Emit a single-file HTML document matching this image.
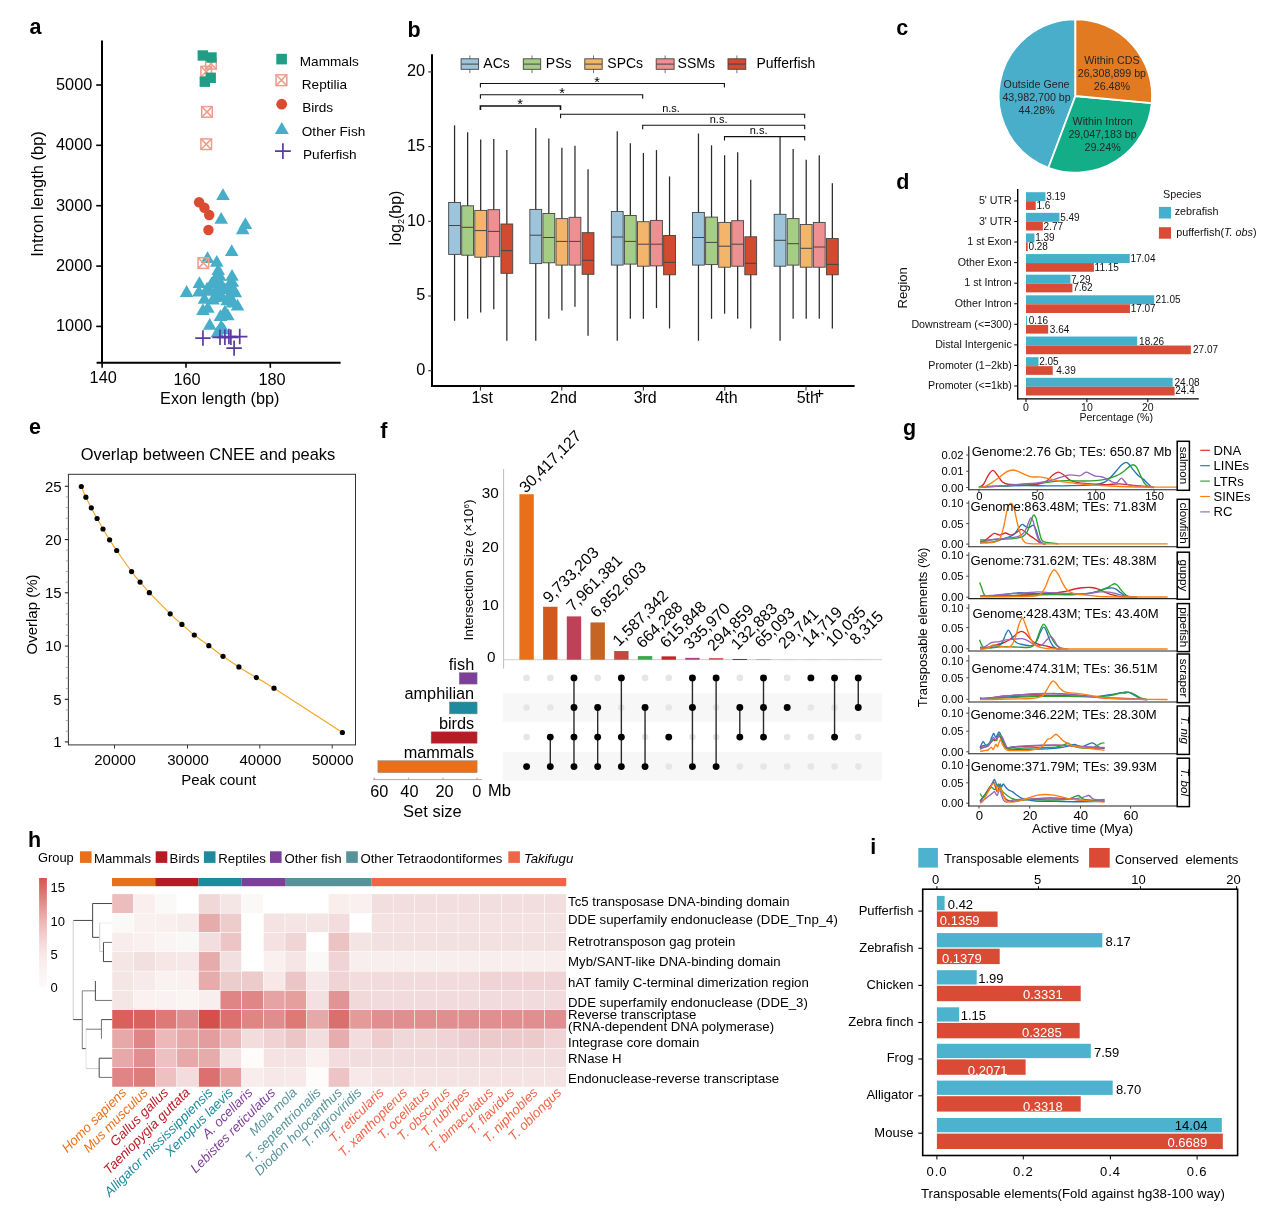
<!DOCTYPE html>
<html lang="en">
<head>
<meta charset="utf-8">
<title>Figure</title>
<style>
html,body{margin:0;padding:0;background:#fff;}
body{width:1268px;height:1213px;overflow:hidden;}
svg{display:block;font-family:"Liberation Sans",sans-serif;}
</style>
</head>
<body>
<svg width="1268" height="1213" viewBox="0 0 1268 1213">
<rect x="0" y="0" width="1268" height="1213" fill="#ffffff"/>
<g>
<text x="29.5" y="34.3" font-size="21.5" font-weight="bold">a</text>
<line x1="102" y1="40.4" x2="102" y2="363.6" stroke="#000" stroke-width="2" />
<line x1="96.6" y1="362.7" x2="340.6" y2="362.7" stroke="#000" stroke-width="2" />
<line x1="96.2" y1="85" x2="102" y2="85" stroke="#000" stroke-width="1.6" />
<text x="92.3" y="89.95" font-size="16.3" text-anchor="end">5000</text>
<line x1="96.2" y1="145.3" x2="102" y2="145.3" stroke="#000" stroke-width="1.6" />
<text x="92.3" y="150.25" font-size="16.3" text-anchor="end">4000</text>
<line x1="96.2" y1="205.7" x2="102" y2="205.7" stroke="#000" stroke-width="1.6" />
<text x="92.3" y="210.65" font-size="16.3" text-anchor="end">3000</text>
<line x1="96.2" y1="266.1" x2="102" y2="266.1" stroke="#000" stroke-width="1.6" />
<text x="92.3" y="271.05" font-size="16.3" text-anchor="end">2000</text>
<line x1="96.2" y1="326.4" x2="102" y2="326.4" stroke="#000" stroke-width="1.6" />
<text x="92.3" y="331.35" font-size="16.3" text-anchor="end">1000</text>
<line x1="102.1" y1="362.7" x2="102.1" y2="367.8" stroke="#000" stroke-width="1.6" />
<line x1="186" y1="362.7" x2="186" y2="367.8" stroke="#000" stroke-width="1.6" />
<line x1="270.3" y1="362.7" x2="270.3" y2="367.8" stroke="#000" stroke-width="1.6" />
<text x="103.2" y="382.6" font-size="16.3" text-anchor="middle">140</text>
<text x="187" y="385" font-size="16.3" text-anchor="middle">160</text>
<text x="272" y="385" font-size="16.3" text-anchor="middle">180</text>
<text x="219.8" y="403.6" font-size="16.3" text-anchor="middle">Exon length (bp)</text>
<text x="43" y="194" font-size="16.5" text-anchor="middle" transform="rotate(-90 43 194)">Intron length (bp)</text>
<path d="M222.98,188.2L229.78,200L216.18,200Z" fill="#46aec9"/>
<path d="M221.19,211.94L227.99,223.74L214.39,223.74Z" fill="#46aec9"/>
<path d="M245.38,217.13L252.18,228.93L238.58,228.93Z" fill="#46aec9"/>
<path d="M242.71,222.33L249.51,234.13L235.91,234.13Z" fill="#46aec9"/>
<path d="M231.73,244.14L238.53,255.94L224.93,255.94Z" fill="#46aec9"/>
<path d="M207.54,251.26L214.34,263.06L200.74,263.06Z" fill="#46aec9"/>
<path d="M216.74,254.97L223.54,266.77L209.94,266.77Z" fill="#46aec9"/>
<path d="M218.23,263.13L225.03,274.93L211.43,274.93Z" fill="#46aec9"/>
<path d="M219.71,269.07L226.51,280.87L212.91,280.87Z" fill="#46aec9"/>
<path d="M232.03,269.07L238.83,280.87L225.23,280.87Z" fill="#46aec9"/>
<path d="M199.38,276.19L206.18,287.99L192.58,287.99Z" fill="#46aec9"/>
<path d="M186.62,285.1L193.42,296.9L179.82,296.9Z" fill="#46aec9"/>
<path d="M211.55,276.49L218.35,288.29L204.75,288.29Z" fill="#46aec9"/>
<path d="M232.32,275.01L239.12,286.81L225.52,286.81Z" fill="#46aec9"/>
<path d="M198.94,284.65L205.74,296.45L192.14,296.45Z" fill="#46aec9"/>
<path d="M210.07,283.91L216.87,295.71L203.27,295.71Z" fill="#46aec9"/>
<path d="M217.48,280.94L224.28,292.74L210.68,292.74Z" fill="#46aec9"/>
<path d="M224.9,282.42L231.7,294.22L218.1,294.22Z" fill="#46aec9"/>
<path d="M235.29,285.39L242.09,297.19L228.49,297.19Z" fill="#46aec9"/>
<path d="M214.52,289.84L221.32,301.64L207.72,301.64Z" fill="#46aec9"/>
<path d="M221.94,289.84L228.74,301.64L215.14,301.64Z" fill="#46aec9"/>
<path d="M229.36,288.36L236.16,300.16L222.56,300.16Z" fill="#46aec9"/>
<path d="M204.43,292.07L211.23,303.87L197.63,303.87Z" fill="#46aec9"/>
<path d="M237.52,298.75L244.32,310.55L230.72,310.55Z" fill="#46aec9"/>
<path d="M232.32,295.78L239.12,307.58L225.52,307.58Z" fill="#46aec9"/>
<path d="M202.94,303.2L209.74,315L196.14,315Z" fill="#46aec9"/>
<path d="M207.84,300.97L214.64,312.77L201.04,312.77Z" fill="#46aec9"/>
<path d="M224.9,304.68L231.7,316.48L218.1,316.48Z" fill="#46aec9"/>
<path d="M220.45,309.13L227.25,320.93L213.65,320.93Z" fill="#46aec9"/>
<path d="M227.87,308.39L234.67,320.19L221.07,320.19Z" fill="#46aec9"/>
<path d="M209.77,318.04L216.57,329.84L202.97,329.84Z" fill="#46aec9"/>
<path d="M221.19,319.52L227.99,331.32L214.39,331.32Z" fill="#46aec9"/>
<path d="M217.48,325.46L224.28,337.26L210.68,337.26Z" fill="#46aec9"/>
<path d="M223.42,322.49L230.22,334.29L216.62,334.29Z" fill="#46aec9"/>
<path d="M214.52,272.78L221.32,284.58L207.72,284.58Z" fill="#46aec9"/>
<path d="M221.19,277.23L227.99,289.03L214.39,289.03Z" fill="#46aec9"/>
<path d="M207.1,281.68L213.9,293.48L200.3,293.48Z" fill="#46aec9"/>
<path d="M228.61,278.71L235.41,290.51L221.81,290.51Z" fill="#46aec9"/>
<path d="M218.97,286.13L225.77,297.93L212.17,297.93Z" fill="#46aec9"/>
<path d="M213.03,292.81L219.83,304.61L206.23,304.61Z" fill="#46aec9"/>
<path d="M227.13,293.55L233.93,305.35L220.33,305.35Z" fill="#46aec9"/>
<path d="M233.07,281.68L239.87,293.48L226.27,293.48Z" fill="#46aec9"/>
<path d="M230.84,291.33L237.64,303.13L224.04,303.13Z" fill="#46aec9"/>
<g stroke="#ee9d8a" stroke-width="1.5" fill="none"><rect x="205.7" y="58.5" width="10.6" height="10.6"/><path d="M205.7,58.5L216.3,69.1M205.7,69.1L216.3,58.5"/></g>
<g stroke="#ee9d8a" stroke-width="1.5" fill="none"><rect x="200.9" y="66.4" width="10.6" height="10.6"/><path d="M200.9,66.4L211.5,77M200.9,77L211.5,66.4"/></g>
<g stroke="#ee9d8a" stroke-width="1.5" fill="none"><rect x="201.7" y="106.6" width="10.6" height="10.6"/><path d="M201.7,106.6L212.3,117.2M201.7,117.2L212.3,106.6"/></g>
<g stroke="#ee9d8a" stroke-width="1.5" fill="none"><rect x="200.9" y="138.9" width="10.6" height="10.6"/><path d="M200.9,138.9L211.5,149.5M200.9,149.5L211.5,138.9"/></g>
<g stroke="#ee9d8a" stroke-width="1.5" fill="none"><rect x="198.09" y="257.8" width="10.6" height="10.6"/><path d="M198.09,257.8L208.69,268.4M198.09,268.4L208.69,257.8"/></g>
<rect x="197.6" y="50.3" width="10.4" height="10.4" fill="#1f9e85"/>
<rect x="206.3" y="52.3" width="10.4" height="10.4" fill="#1f9e85"/>
<rect x="199.6" y="76.5" width="10.4" height="10.4" fill="#1f9e85"/>
<rect x="205.5" y="72.6" width="10.4" height="10.4" fill="#1f9e85"/>
<circle cx="199.08" cy="202.26" r="5.2" fill="#dc4b31" />
<circle cx="204.43" cy="207.75" r="5.2" fill="#dc4b31" />
<circle cx="209.17" cy="215.02" r="5.2" fill="#dc4b31" />
<circle cx="208.43" cy="230.01" r="5.2" fill="#dc4b31" />
<path d="M195.24,338.04L210.64,338.04M202.94,330.34L202.94,345.74" stroke="#5a3a9e" stroke-width="1.7" fill="none"/>
<path d="M212.31,337.29L227.71,337.29M220.01,329.59L220.01,344.99" stroke="#5a3a9e" stroke-width="1.7" fill="none"/>
<path d="M217.2,337.29L232.6,337.29M224.9,329.59L224.9,344.99" stroke="#5a3a9e" stroke-width="1.7" fill="none"/>
<path d="M221.21,336.55L236.61,336.55M228.91,328.85L228.91,344.25" stroke="#5a3a9e" stroke-width="1.7" fill="none"/>
<path d="M223.14,337.29L238.54,337.29M230.84,329.59L230.84,344.99" stroke="#5a3a9e" stroke-width="1.7" fill="none"/>
<path d="M232.04,336.55L247.44,336.55M239.74,328.85L239.74,344.25" stroke="#5a3a9e" stroke-width="1.7" fill="none"/>
<path d="M226.4,348.13L241.8,348.13M234.1,340.43L234.1,355.83" stroke="#5a3a9e" stroke-width="1.7" fill="none"/>
<rect x="276.3" y="53.8" width="10.6" height="10.6" fill="#1f9e85"/>
<text x="299.8" y="65.7" font-size="13.6">Mammals</text>
<g stroke="#ee9d8a" stroke-width="1.5" fill="none"><rect x="276" y="74.8" width="10.8" height="10.8"/><path d="M276,74.8L286.8,85.6M276,85.6L286.8,74.8"/></g>
<text x="301.8" y="89" font-size="13.6">Reptilia</text>
<circle cx="281.7" cy="104.2" r="5.4" fill="#dc4b31" />
<text x="302.2" y="112.3" font-size="13.6">Birds</text>
<path d="M281.8,122.1L288.8,134.1L274.8,134.1Z" fill="#46aec9"/>
<text x="301.8" y="135.5" font-size="13.6">Other Fish</text>
<path d="M275,151.1L290.8,151.1M282.9,143.2L282.9,159" stroke="#5a3a9e" stroke-width="1.7" fill="none"/>
<text x="303" y="158.8" font-size="13.6">Puferfish</text>
</g>
<g>
<text x="407.5" y="37.3" font-size="21.5" font-weight="bold">b</text>
<line x1="432" y1="54.3" x2="432" y2="387" stroke="#000" stroke-width="2" />
<line x1="431.3" y1="386" x2="854.6" y2="386" stroke="#000" stroke-width="2" />
<line x1="428.2" y1="370.7" x2="432" y2="370.7" stroke="#333" stroke-width="1.1" />
<text x="425.2" y="375" font-size="16.3" text-anchor="end">0</text>
<line x1="428.2" y1="296" x2="432" y2="296" stroke="#333" stroke-width="1.1" />
<text x="425.2" y="300.3" font-size="16.3" text-anchor="end">5</text>
<line x1="428.2" y1="221.3" x2="432" y2="221.3" stroke="#333" stroke-width="1.1" />
<text x="425.2" y="225.6" font-size="16.3" text-anchor="end">10</text>
<line x1="428.2" y1="146.6" x2="432" y2="146.6" stroke="#333" stroke-width="1.1" />
<text x="425.2" y="150.9" font-size="16.3" text-anchor="end">15</text>
<line x1="428.2" y1="71.9" x2="432" y2="71.9" stroke="#333" stroke-width="1.1" />
<text x="425.2" y="76.2" font-size="16.3" text-anchor="end">20</text>
<line x1="480.4" y1="386" x2="480.4" y2="390.6" stroke="#222" stroke-width="1" />
<text x="482.2" y="402.6" font-size="16" text-anchor="middle">1st</text>
<line x1="561.8" y1="386" x2="561.8" y2="390.6" stroke="#222" stroke-width="1" />
<text x="563.6" y="402.6" font-size="16" text-anchor="middle">2nd</text>
<line x1="643.4" y1="386" x2="643.4" y2="390.6" stroke="#222" stroke-width="1" />
<text x="645.2" y="402.6" font-size="16" text-anchor="middle">3rd</text>
<line x1="724.8" y1="386" x2="724.8" y2="390.6" stroke="#222" stroke-width="1" />
<text x="726.6" y="402.6" font-size="16" text-anchor="middle">4th</text>
<line x1="806" y1="386" x2="806" y2="390.6" stroke="#222" stroke-width="1" />
<text x="807.8" y="402.6" font-size="16" text-anchor="middle">5th</text>
<text x="815.1" y="397.7" font-size="15.5">+</text>
<text x="400.9" y="218" font-size="16" text-anchor="middle" transform="rotate(-90 400.9 218)">log<tspan font-size="9" dy="3.5">2</tspan><tspan dy="-3.5">(bp)</tspan></text>
<line x1="454.56" y1="125.3" x2="454.56" y2="320.8" stroke="#2a2a2a" stroke-width="1.25" />
<rect x="448.66" y="202.5" width="11.8" height="51.9" fill="#9dc4da" stroke="#444" stroke-width="0.9"/>
<line x1="448.66" y1="225.5" x2="460.46" y2="225.5" stroke="#444" stroke-width="1" />
<line x1="467.63" y1="132.2" x2="467.63" y2="318.8" stroke="#2a2a2a" stroke-width="1.25" />
<rect x="461.73" y="205.8" width="11.8" height="49.4" fill="#a6cd85" stroke="#444" stroke-width="0.9"/>
<line x1="461.73" y1="227.3" x2="473.53" y2="227.3" stroke="#444" stroke-width="1" />
<line x1="480.7" y1="139.6" x2="480.7" y2="312.4" stroke="#2a2a2a" stroke-width="1.25" />
<rect x="474.8" y="210.4" width="11.8" height="46.8" fill="#f2b56b" stroke="#444" stroke-width="0.9"/>
<line x1="474.8" y1="230.6" x2="486.6" y2="230.6" stroke="#444" stroke-width="1" />
<line x1="493.77" y1="139.1" x2="493.77" y2="309.3" stroke="#2a2a2a" stroke-width="1.25" />
<rect x="487.87" y="209.7" width="11.8" height="47" fill="#ee9092" stroke="#444" stroke-width="0.9"/>
<line x1="487.87" y1="231.4" x2="499.67" y2="231.4" stroke="#444" stroke-width="1" />
<line x1="506.84" y1="150.1" x2="506.84" y2="340.8" stroke="#2a2a2a" stroke-width="1.25" />
<rect x="500.94" y="224" width="11.8" height="49.3" fill="#d24a30" stroke="#444" stroke-width="0.9"/>
<line x1="500.94" y1="250.6" x2="512.74" y2="250.6" stroke="#444" stroke-width="1" />
<line x1="535.76" y1="127.9" x2="535.76" y2="340.8" stroke="#2a2a2a" stroke-width="1.25" />
<rect x="529.86" y="209.4" width="11.8" height="54.2" fill="#9dc4da" stroke="#444" stroke-width="0.9"/>
<line x1="529.86" y1="235.2" x2="541.66" y2="235.2" stroke="#444" stroke-width="1" />
<line x1="548.83" y1="138.6" x2="548.83" y2="318.8" stroke="#2a2a2a" stroke-width="1.25" />
<rect x="542.93" y="213.5" width="11.8" height="49.3" fill="#a6cd85" stroke="#444" stroke-width="0.9"/>
<line x1="542.93" y1="237.5" x2="554.73" y2="237.5" stroke="#444" stroke-width="1" />
<line x1="561.9" y1="147.8" x2="561.9" y2="310.6" stroke="#2a2a2a" stroke-width="1.25" />
<rect x="556" y="218.6" width="11.8" height="46.5" fill="#f2b56b" stroke="#444" stroke-width="0.9"/>
<line x1="556" y1="241.4" x2="567.8" y2="241.4" stroke="#444" stroke-width="1" />
<line x1="574.97" y1="145.8" x2="574.97" y2="306.8" stroke="#2a2a2a" stroke-width="1.25" />
<rect x="569.07" y="217.3" width="11.8" height="47.8" fill="#ee9092" stroke="#444" stroke-width="0.9"/>
<line x1="569.07" y1="241.4" x2="580.87" y2="241.4" stroke="#444" stroke-width="1" />
<line x1="588.04" y1="169.3" x2="588.04" y2="335.7" stroke="#2a2a2a" stroke-width="1.25" />
<rect x="582.14" y="232.7" width="11.8" height="41.6" fill="#d24a30" stroke="#444" stroke-width="0.9"/>
<line x1="582.14" y1="260.3" x2="593.94" y2="260.3" stroke="#444" stroke-width="1" />
<line x1="617.26" y1="131.2" x2="617.26" y2="340.8" stroke="#2a2a2a" stroke-width="1.25" />
<rect x="611.36" y="211.5" width="11.8" height="53.6" fill="#9dc4da" stroke="#444" stroke-width="0.9"/>
<line x1="611.36" y1="237" x2="623.16" y2="237" stroke="#444" stroke-width="1" />
<line x1="630.33" y1="143.2" x2="630.33" y2="318.8" stroke="#2a2a2a" stroke-width="1.25" />
<rect x="624.43" y="215.5" width="11.8" height="48.6" fill="#a6cd85" stroke="#444" stroke-width="0.9"/>
<line x1="624.43" y1="241.4" x2="636.23" y2="241.4" stroke="#444" stroke-width="1" />
<line x1="643.4" y1="152.9" x2="643.4" y2="318.8" stroke="#2a2a2a" stroke-width="1.25" />
<rect x="637.5" y="221.7" width="11.8" height="44.5" fill="#f2b56b" stroke="#444" stroke-width="0.9"/>
<line x1="637.5" y1="244.2" x2="649.3" y2="244.2" stroke="#444" stroke-width="1" />
<line x1="656.47" y1="150.1" x2="656.47" y2="308.1" stroke="#2a2a2a" stroke-width="1.25" />
<rect x="650.57" y="220.4" width="11.8" height="45.5" fill="#ee9092" stroke="#444" stroke-width="0.9"/>
<line x1="650.57" y1="244.2" x2="662.37" y2="244.2" stroke="#444" stroke-width="1" />
<line x1="669.54" y1="176.4" x2="669.54" y2="328.5" stroke="#2a2a2a" stroke-width="1.25" />
<rect x="663.64" y="235.5" width="11.8" height="39.3" fill="#d24a30" stroke="#444" stroke-width="0.9"/>
<line x1="663.64" y1="262.3" x2="675.44" y2="262.3" stroke="#444" stroke-width="1" />
<line x1="698.46" y1="133.5" x2="698.46" y2="340.8" stroke="#2a2a2a" stroke-width="1.25" />
<rect x="692.56" y="212.5" width="11.8" height="52.6" fill="#9dc4da" stroke="#444" stroke-width="0.9"/>
<line x1="692.56" y1="237.5" x2="704.36" y2="237.5" stroke="#444" stroke-width="1" />
<line x1="711.53" y1="145.3" x2="711.53" y2="318.8" stroke="#2a2a2a" stroke-width="1.25" />
<rect x="705.63" y="217.1" width="11.8" height="47.5" fill="#a6cd85" stroke="#444" stroke-width="0.9"/>
<line x1="705.63" y1="242.4" x2="717.43" y2="242.4" stroke="#444" stroke-width="1" />
<line x1="724.6" y1="155.2" x2="724.6" y2="313.7" stroke="#2a2a2a" stroke-width="1.25" />
<rect x="718.7" y="222.4" width="11.8" height="44.8" fill="#f2b56b" stroke="#444" stroke-width="0.9"/>
<line x1="718.7" y1="246.2" x2="730.5" y2="246.2" stroke="#444" stroke-width="1" />
<line x1="737.67" y1="152.2" x2="737.67" y2="318.8" stroke="#2a2a2a" stroke-width="1.25" />
<rect x="731.77" y="220.7" width="11.8" height="45.5" fill="#ee9092" stroke="#444" stroke-width="0.9"/>
<line x1="731.77" y1="244.2" x2="743.57" y2="244.2" stroke="#444" stroke-width="1" />
<line x1="750.74" y1="179.8" x2="750.74" y2="328.5" stroke="#2a2a2a" stroke-width="1.25" />
<rect x="744.84" y="236.8" width="11.8" height="38" fill="#d24a30" stroke="#444" stroke-width="0.9"/>
<line x1="744.84" y1="263.3" x2="756.64" y2="263.3" stroke="#444" stroke-width="1" />
<line x1="780.06" y1="136.8" x2="780.06" y2="340.8" stroke="#2a2a2a" stroke-width="1.25" />
<rect x="774.16" y="214.3" width="11.8" height="51.9" fill="#9dc4da" stroke="#444" stroke-width="0.9"/>
<line x1="774.16" y1="240.3" x2="785.96" y2="240.3" stroke="#444" stroke-width="1" />
<line x1="793.13" y1="149.1" x2="793.13" y2="318.8" stroke="#2a2a2a" stroke-width="1.25" />
<rect x="787.23" y="218.6" width="11.8" height="46.5" fill="#a6cd85" stroke="#444" stroke-width="0.9"/>
<line x1="787.23" y1="243.7" x2="799.03" y2="243.7" stroke="#444" stroke-width="1" />
<line x1="806.2" y1="159.8" x2="806.2" y2="318.8" stroke="#2a2a2a" stroke-width="1.25" />
<rect x="800.3" y="224.5" width="11.8" height="42.7" fill="#f2b56b" stroke="#444" stroke-width="0.9"/>
<line x1="800.3" y1="248.3" x2="812.1" y2="248.3" stroke="#444" stroke-width="1" />
<line x1="819.27" y1="155.2" x2="819.27" y2="318.8" stroke="#2a2a2a" stroke-width="1.25" />
<rect x="813.37" y="222.4" width="11.8" height="44.8" fill="#ee9092" stroke="#444" stroke-width="0.9"/>
<line x1="813.37" y1="247" x2="825.17" y2="247" stroke="#444" stroke-width="1" />
<line x1="832.34" y1="183.3" x2="832.34" y2="328.5" stroke="#2a2a2a" stroke-width="1.25" />
<rect x="826.44" y="238.5" width="11.8" height="36.3" fill="#d24a30" stroke="#444" stroke-width="0.9"/>
<line x1="826.44" y1="264.4" x2="838.24" y2="264.4" stroke="#444" stroke-width="1" />
<line x1="469.85" y1="55.4" x2="469.85" y2="73.2" stroke="#777" stroke-width="1" />
<rect x="461.1" y="58.8" width="17.5" height="10.5" fill="#9dc4da" stroke="#444" stroke-width="0.9"/>
<line x1="461.1" y1="64.1" x2="478.6" y2="64.1" stroke="#444" stroke-width="1" />
<text x="483.3" y="68" font-size="14">ACs</text>
<line x1="532" y1="55.4" x2="532" y2="73.2" stroke="#777" stroke-width="1" />
<rect x="523.3" y="58.8" width="17.4" height="10.5" fill="#a6cd85" stroke="#444" stroke-width="0.9"/>
<line x1="523.3" y1="64.1" x2="540.7" y2="64.1" stroke="#444" stroke-width="1" />
<text x="545.8" y="68" font-size="14">PSs</text>
<line x1="593.5" y1="55.4" x2="593.5" y2="73.2" stroke="#777" stroke-width="1" />
<rect x="584.8" y="58.8" width="17.4" height="10.5" fill="#f2b56b" stroke="#444" stroke-width="0.9"/>
<line x1="584.8" y1="64.1" x2="602.2" y2="64.1" stroke="#444" stroke-width="1" />
<text x="607.3" y="68" font-size="14">SPCs</text>
<line x1="665.15" y1="55.4" x2="665.15" y2="73.2" stroke="#777" stroke-width="1" />
<rect x="656.2" y="58.8" width="17.9" height="10.5" fill="#ee9092" stroke="#444" stroke-width="0.9"/>
<line x1="656.2" y1="64.1" x2="674.1" y2="64.1" stroke="#444" stroke-width="1" />
<text x="677.6" y="68" font-size="14">SSMs</text>
<line x1="736.9" y1="55.4" x2="736.9" y2="73.2" stroke="#777" stroke-width="1" />
<rect x="728" y="58.8" width="17.8" height="10.5" fill="#d24a30" stroke="#444" stroke-width="0.9"/>
<line x1="728" y1="64.1" x2="745.8" y2="64.1" stroke="#444" stroke-width="1" />
<text x="756.5" y="68" font-size="14">Pufferfish</text>
<path d="M480.4,87.5L480.4,83.5L724.4,83.5L724.4,87.5" fill="none" stroke="#111" stroke-width="1.1" /><text x="597.1" y="86.9" font-size="14.5" text-anchor="middle">*</text>
<path d="M480.4,98.7L480.4,94.7L642.7,94.7L642.7,98.7" fill="none" stroke="#111" stroke-width="1.1" /><text x="562.2" y="98.1" font-size="14.5" text-anchor="middle">*</text>
<path d="M480.4,110L480.4,106L560.5,106L560.5,110" fill="none" stroke="#111" stroke-width="1.6" /><text x="520.2" y="109.4" font-size="14.5" text-anchor="middle">*</text>
<path d="M560.6,118.2L560.6,114.2L804.7,114.2L804.7,118.2" fill="none" stroke="#111" stroke-width="1.1" /><text x="671" y="112" font-size="11" text-anchor="middle">n.s.</text>
<path d="M642.7,129.3L642.7,125.3L804.7,125.3L804.7,129.3" fill="none" stroke="#111" stroke-width="1.1" /><text x="718.6" y="123.1" font-size="11" text-anchor="middle">n.s.</text>
<path d="M724.5,140.6L724.5,136.6L804.7,136.6L804.7,140.6" fill="none" stroke="#111" stroke-width="1.1" /><text x="758.6" y="134.4" font-size="11" text-anchor="middle">n.s.</text>
</g>
<g>
<text x="896.3" y="35" font-size="21.5" font-weight="bold">c</text>
<path d="M1075.4,96L1048.41,167.8A76.7,76.7 0 0 1 1075.4,19.3Z" fill="#48aeca" stroke="#fff" stroke-width="1.8" stroke-linejoin="round"/>
<path d="M1075.4,96L1151.77,103.08A76.7,76.7 0 0 1 1048.41,167.8Z" fill="#13ad88" stroke="#fff" stroke-width="1.8" stroke-linejoin="round"/>
<path d="M1075.4,96L1075.4,19.3A76.7,76.7 0 0 1 1151.77,103.08Z" fill="#e27a22" stroke="#fff" stroke-width="1.8" stroke-linejoin="round"/>
<text x="1111.9" y="63.9" font-size="10.7" text-anchor="middle" fill="#262626">Within CDS</text>
<text x="1111.9" y="76.9" font-size="10.7" text-anchor="middle" fill="#262626">26,308,899 bp</text>
<text x="1111.9" y="89.9" font-size="10.7" text-anchor="middle" fill="#262626">26.48%</text>
<text x="1036.6" y="87.5" font-size="10.7" text-anchor="middle" fill="#262626">Outside Gene</text>
<text x="1036.6" y="100.5" font-size="10.7" text-anchor="middle" fill="#262626">43,982,700 bp</text>
<text x="1036.6" y="113.5" font-size="10.7" text-anchor="middle" fill="#262626">44.28%</text>
<text x="1102.6" y="124.7" font-size="10.7" text-anchor="middle" fill="#262626">Within Intron</text>
<text x="1102.6" y="137.7" font-size="10.7" text-anchor="middle" fill="#262626">29,047,183 bp</text>
<text x="1102.6" y="150.7" font-size="10.7" text-anchor="middle" fill="#262626">29.24%</text>
</g>
<g>
<text x="896.3" y="189.3" font-size="21.5" font-weight="bold">d</text>
<rect x="1026" y="192.2" width="19.43" height="9" fill="#45b0cb"/>
<rect x="1026" y="201.2" width="9.74" height="8.7" fill="#d94b35"/>
<line x1="1014.2" y1="200.9" x2="1017.7" y2="200.9" stroke="#000" stroke-width="1" />
<text x="1011.8" y="204.1" font-size="10.7" text-anchor="end" fill="#111">5' UTR</text>
<text x="1046.13" y="200.2" font-size="10" fill="#111">3.19</text>
<text x="1036.44" y="208.9" font-size="10" fill="#111">1.6</text>
<rect x="1026" y="212.82" width="33.43" height="9" fill="#45b0cb"/>
<rect x="1026" y="221.82" width="16.87" height="8.7" fill="#d94b35"/>
<line x1="1014.2" y1="221.47" x2="1017.7" y2="221.47" stroke="#000" stroke-width="1" />
<text x="1011.8" y="224.67" font-size="10.7" text-anchor="end" fill="#111">3' UTR</text>
<text x="1060.13" y="220.82" font-size="10" fill="#111">5.49</text>
<text x="1043.57" y="229.52" font-size="10" fill="#111">2.77</text>
<rect x="1026" y="233.44" width="8.47" height="9" fill="#45b0cb"/>
<rect x="1026" y="242.44" width="1.71" height="8.7" fill="#d94b35"/>
<line x1="1014.2" y1="242.04" x2="1017.7" y2="242.04" stroke="#000" stroke-width="1" />
<text x="1011.8" y="245.24" font-size="10.7" text-anchor="end" fill="#111">1 st Exon</text>
<text x="1035.17" y="241.44" font-size="10" fill="#111">1.39</text>
<text x="1028.41" y="250.14" font-size="10" fill="#111">0.28</text>
<rect x="1026" y="254.06" width="103.77" height="9" fill="#45b0cb"/>
<rect x="1026" y="263.06" width="67.9" height="8.7" fill="#d94b35"/>
<line x1="1014.2" y1="262.61" x2="1017.7" y2="262.61" stroke="#000" stroke-width="1" />
<text x="1011.8" y="265.81" font-size="10.7" text-anchor="end" fill="#111">Other Exon</text>
<text x="1130.47" y="262.06" font-size="10" fill="#111">17.04</text>
<text x="1094.6" y="270.76" font-size="10" fill="#111">11.15</text>
<rect x="1026" y="274.68" width="44.4" height="9" fill="#45b0cb"/>
<rect x="1026" y="283.68" width="46.41" height="8.7" fill="#d94b35"/>
<line x1="1014.2" y1="283.18" x2="1017.7" y2="283.18" stroke="#000" stroke-width="1" />
<text x="1011.8" y="286.38" font-size="10.7" text-anchor="end" fill="#111">1 st Intron</text>
<text x="1071.1" y="282.68" font-size="10" fill="#111">7.29</text>
<text x="1073.11" y="291.38" font-size="10" fill="#111">7.62</text>
<rect x="1026" y="295.3" width="128.19" height="9" fill="#45b0cb"/>
<rect x="1026" y="304.3" width="103.96" height="8.7" fill="#d94b35"/>
<line x1="1014.2" y1="303.75" x2="1017.7" y2="303.75" stroke="#000" stroke-width="1" />
<text x="1011.8" y="306.95" font-size="10.7" text-anchor="end" fill="#111">Other Intron</text>
<text x="1155.49" y="303.3" font-size="10" fill="#111">21.05</text>
<text x="1130.66" y="312" font-size="10" fill="#111">17.07</text>
<rect x="1026" y="315.92" width="0.97" height="9" fill="#45b0cb"/>
<rect x="1026" y="324.92" width="22.17" height="8.7" fill="#d94b35"/>
<line x1="1014.2" y1="324.32" x2="1017.7" y2="324.32" stroke="#000" stroke-width="1" />
<text x="1011.8" y="327.52" font-size="10.7" text-anchor="end" fill="#111">Downstream (&lt;=300)</text>
<text x="1028.67" y="323.92" font-size="10" fill="#111">0.16</text>
<text x="1049.87" y="332.62" font-size="10" fill="#111">3.64</text>
<rect x="1026" y="336.54" width="111.2" height="9" fill="#45b0cb"/>
<rect x="1026" y="345.54" width="164.86" height="8.7" fill="#d94b35"/>
<line x1="1014.2" y1="344.89" x2="1017.7" y2="344.89" stroke="#000" stroke-width="1" />
<text x="1011.8" y="348.09" font-size="10.7" text-anchor="end" fill="#111">Distal Intergenic</text>
<text x="1139.1" y="344.54" font-size="10" fill="#111">18.26</text>
<text x="1193.06" y="353.24" font-size="10" fill="#111">27.07</text>
<rect x="1026" y="357.16" width="12.48" height="9" fill="#45b0cb"/>
<rect x="1026" y="366.16" width="26.74" height="8.7" fill="#d94b35"/>
<line x1="1014.2" y1="365.46" x2="1017.7" y2="365.46" stroke="#000" stroke-width="1" />
<text x="1011.8" y="368.66" font-size="10.7" text-anchor="end" fill="#111">Promoter (1−2kb)</text>
<text x="1039.18" y="365.16" font-size="10" fill="#111">2.05</text>
<text x="1056.24" y="373.86" font-size="10" fill="#111">4.39</text>
<rect x="1026" y="377.78" width="146.65" height="9" fill="#45b0cb"/>
<rect x="1026" y="386.78" width="148.6" height="8.7" fill="#d94b35"/>
<line x1="1014.2" y1="386.03" x2="1017.7" y2="386.03" stroke="#000" stroke-width="1" />
<text x="1011.8" y="389.23" font-size="10.7" text-anchor="end" fill="#111">Promoter (&lt;=1kb)</text>
<text x="1174.55" y="385.78" font-size="10" fill="#111">24.08</text>
<text x="1175.3" y="394.48" font-size="10" fill="#111">24.4</text>
<line x1="1017.7" y1="189" x2="1017.7" y2="399.6" stroke="#000" stroke-width="1.4" />
<line x1="1017" y1="398.9" x2="1198.8" y2="398.9" stroke="#000" stroke-width="1.4" />
<line x1="1026" y1="398.9" x2="1026" y2="402.2" stroke="#000" stroke-width="1" />
<text x="1026" y="411" font-size="10.5" text-anchor="middle" fill="#111">0</text>
<line x1="1086.9" y1="398.9" x2="1086.9" y2="402.2" stroke="#000" stroke-width="1" />
<text x="1086.9" y="411" font-size="10.5" text-anchor="middle" fill="#111">10</text>
<line x1="1147.8" y1="398.9" x2="1147.8" y2="402.2" stroke="#000" stroke-width="1" />
<text x="1147.8" y="411" font-size="10.5" text-anchor="middle" fill="#111">20</text>
<text x="1116.2" y="421" font-size="10.6" text-anchor="middle" fill="#111">Percentage (%)</text>
<text x="906.6" y="287.8" font-size="13" text-anchor="middle" fill="#111" transform="rotate(-90 906.6 287.8)">Region</text>
<text x="1163" y="197.6" font-size="10.8" fill="#111">Species</text>
<rect x="1158.9" y="206.9" width="12.1" height="11.6" fill="#45b0cb"/>
<text x="1174.7" y="214.8" font-size="10.8" fill="#111">zebrafish</text>
<rect x="1158.9" y="227.2" width="12.1" height="11.5" fill="#d94b35"/>
<text x="1176.2" y="235.6" font-size="10.8" fill="#111">pufferfish(<tspan font-style="italic">T. obs</tspan>)</text>
</g>
<g>
<text x="29" y="434.2" font-size="21.5" font-weight="bold">e</text>
<text x="208" y="459.5" font-size="16.4" text-anchor="middle" textLength="254.5" lengthAdjust="spacingAndGlyphs">Overlap between CNEE and peaks</text>
<rect x="68.4" y="474.3" width="287.1" height="270.6" fill="none" stroke="#333" stroke-width="1"/>
<line x1="64.8" y1="741.9" x2="68.4" y2="741.9" stroke="#222" stroke-width="1.1" />
<text x="61.6" y="747.3" font-size="15" text-anchor="end">1</text>
<line x1="65.8" y1="731.25" x2="68.4" y2="731.25" stroke="#999" stroke-width="0.8" />
<line x1="65.8" y1="720.6" x2="68.4" y2="720.6" stroke="#999" stroke-width="0.8" />
<line x1="65.8" y1="709.95" x2="68.4" y2="709.95" stroke="#999" stroke-width="0.8" />
<line x1="64.8" y1="699.3" x2="68.4" y2="699.3" stroke="#222" stroke-width="1.1" />
<text x="61.6" y="704.7" font-size="15" text-anchor="end">5</text>
<line x1="65.8" y1="688.65" x2="68.4" y2="688.65" stroke="#999" stroke-width="0.8" />
<line x1="65.8" y1="678" x2="68.4" y2="678" stroke="#999" stroke-width="0.8" />
<line x1="65.8" y1="667.35" x2="68.4" y2="667.35" stroke="#999" stroke-width="0.8" />
<line x1="65.8" y1="656.7" x2="68.4" y2="656.7" stroke="#999" stroke-width="0.8" />
<line x1="64.8" y1="646.05" x2="68.4" y2="646.05" stroke="#222" stroke-width="1.1" />
<text x="61.6" y="651.45" font-size="15" text-anchor="end">10</text>
<line x1="65.8" y1="635.4" x2="68.4" y2="635.4" stroke="#999" stroke-width="0.8" />
<line x1="65.8" y1="624.75" x2="68.4" y2="624.75" stroke="#999" stroke-width="0.8" />
<line x1="65.8" y1="614.1" x2="68.4" y2="614.1" stroke="#999" stroke-width="0.8" />
<line x1="65.8" y1="603.45" x2="68.4" y2="603.45" stroke="#999" stroke-width="0.8" />
<line x1="64.8" y1="592.8" x2="68.4" y2="592.8" stroke="#222" stroke-width="1.1" />
<text x="61.6" y="598.2" font-size="15" text-anchor="end">15</text>
<line x1="65.8" y1="582.15" x2="68.4" y2="582.15" stroke="#999" stroke-width="0.8" />
<line x1="65.8" y1="571.5" x2="68.4" y2="571.5" stroke="#999" stroke-width="0.8" />
<line x1="65.8" y1="560.85" x2="68.4" y2="560.85" stroke="#999" stroke-width="0.8" />
<line x1="65.8" y1="550.2" x2="68.4" y2="550.2" stroke="#999" stroke-width="0.8" />
<line x1="64.8" y1="539.55" x2="68.4" y2="539.55" stroke="#222" stroke-width="1.1" />
<text x="61.6" y="544.95" font-size="15" text-anchor="end">20</text>
<line x1="65.8" y1="528.9" x2="68.4" y2="528.9" stroke="#999" stroke-width="0.8" />
<line x1="65.8" y1="518.25" x2="68.4" y2="518.25" stroke="#999" stroke-width="0.8" />
<line x1="65.8" y1="507.6" x2="68.4" y2="507.6" stroke="#999" stroke-width="0.8" />
<line x1="65.8" y1="496.95" x2="68.4" y2="496.95" stroke="#999" stroke-width="0.8" />
<line x1="64.8" y1="486.3" x2="68.4" y2="486.3" stroke="#222" stroke-width="1.1" />
<text x="61.6" y="491.7" font-size="15" text-anchor="end">25</text>
<line x1="114.5" y1="744.9" x2="114.5" y2="748.5" stroke="#333" stroke-width="1" />
<text x="115.1" y="765.1" font-size="15" text-anchor="middle">20000</text>
<line x1="187.5" y1="744.9" x2="187.5" y2="748.5" stroke="#333" stroke-width="1" />
<text x="188.1" y="765.1" font-size="15" text-anchor="middle">30000</text>
<line x1="259.8" y1="744.9" x2="259.8" y2="748.5" stroke="#333" stroke-width="1" />
<text x="260.4" y="765.1" font-size="15" text-anchor="middle">40000</text>
<line x1="332.2" y1="744.9" x2="332.2" y2="748.5" stroke="#333" stroke-width="1" />
<text x="332.8" y="765.1" font-size="15" text-anchor="middle">50000</text>
<text x="218.7" y="784.6" font-size="15" text-anchor="middle">Peak count</text>
<text x="37.4" y="614.5" font-size="15" text-anchor="middle" transform="rotate(-90 37.4 614.5)">Overlap (%)</text>
<path d="M81.3,486.5C82.07,488.28 84.23,493.63 85.9,497.2C87.57,500.77 89.43,504.35 91.3,507.9C93.17,511.45 95.15,514.98 97.1,518.5C99.05,522.02 100.92,525.45 103,529C105.08,532.55 107.32,536.22 109.6,539.8C111.88,543.38 113.03,545.2 116.7,550.5C120.37,555.8 127.7,566.33 131.6,571.6C135.5,576.87 137.13,578.58 140.1,582.1C143.07,585.62 144.38,587.42 149.4,592.7C154.42,597.98 164.78,608.52 170.2,613.8C175.62,619.08 177.88,620.87 181.9,624.4C185.92,627.93 189.82,631.45 194.3,635C198.78,638.55 204.02,642.15 208.8,645.7C213.58,649.25 217.98,652.77 223,656.3C228.02,659.83 233.35,663.35 238.9,666.9C244.45,670.45 250.45,674.05 256.3,677.6C262.15,681.15 259.65,679.05 274,688.2C288.35,697.35 331,725.12 342.4,732.5" fill="none" stroke="#f5a623" stroke-width="1.15" />
<circle cx="81.3" cy="486.5" r="2.6" fill="#000" />
<circle cx="85.9" cy="497.2" r="2.6" fill="#000" />
<circle cx="91.3" cy="507.9" r="2.6" fill="#000" />
<circle cx="97.1" cy="518.5" r="2.6" fill="#000" />
<circle cx="103" cy="529" r="2.6" fill="#000" />
<circle cx="109.6" cy="539.8" r="2.6" fill="#000" />
<circle cx="116.7" cy="550.5" r="2.6" fill="#000" />
<circle cx="131.6" cy="571.6" r="2.6" fill="#000" />
<circle cx="140.1" cy="582.1" r="2.6" fill="#000" />
<circle cx="149.4" cy="592.7" r="2.6" fill="#000" />
<circle cx="170.2" cy="613.8" r="2.6" fill="#000" />
<circle cx="181.9" cy="624.4" r="2.6" fill="#000" />
<circle cx="194.3" cy="635" r="2.6" fill="#000" />
<circle cx="208.8" cy="645.7" r="2.6" fill="#000" />
<circle cx="223" cy="656.3" r="2.6" fill="#000" />
<circle cx="238.9" cy="666.9" r="2.6" fill="#000" />
<circle cx="256.3" cy="677.6" r="2.6" fill="#000" />
<circle cx="274" cy="688.2" r="2.6" fill="#000" />
<circle cx="342.4" cy="732.5" r="2.6" fill="#000" />
</g>
<g>
<text x="380.3" y="437.8" font-size="21.5" font-weight="bold">f</text>
<rect x="502.7" y="693.2" width="379.4" height="28.6" fill="#f7f7f7"/>
<rect x="502.7" y="752.1" width="379.4" height="28.6" fill="#f7f7f7"/>
<line x1="503.6" y1="469" x2="503.6" y2="668.6" stroke="#bdbdbd" stroke-width="1" />
<line x1="503.6" y1="659.7" x2="882" y2="659.7" stroke="#cfcfcf" stroke-width="1" />
<text x="495.5" y="662.1" font-size="15.3" text-anchor="end">0</text>
<text x="498.7" y="610.3" font-size="15.3" text-anchor="end">10</text>
<text x="498.7" y="552.4" font-size="15.3" text-anchor="end">20</text>
<text x="498.7" y="497.9" font-size="15.3" text-anchor="end">30</text>
<text x="473.2" y="570" font-size="13.6" text-anchor="middle" transform="rotate(-90 473.2 570)">Intersection Size (×10<tspan font-size="8" dy="-4.5">6</tspan><tspan dy="4.5">)</tspan></text>
<rect x="519.4" y="494.23" width="14.4" height="165.47" fill="#e8701a"/>
<text x="525.7" y="493.7" font-size="16" transform="rotate(-45 525.7 493.7)">30,417,127</text>
<rect x="543.09" y="606.75" width="14.4" height="52.95" fill="#d2591d"/>
<text x="549.39" y="603.7" font-size="16" transform="rotate(-45 549.39 603.7)">9,733,203</text>
<rect x="566.78" y="616.39" width="14.4" height="43.31" fill="#bd4258"/>
<text x="573.08" y="611.9" font-size="16" transform="rotate(-45 573.08 611.9)">7,961,381</text>
<rect x="590.47" y="622.42" width="14.4" height="37.28" fill="#c56524"/>
<text x="596.77" y="618.6" font-size="16" transform="rotate(-45 596.77 618.6)">6,852,603</text>
<rect x="614.16" y="651.06" width="14.4" height="8.64" fill="#c44840"/>
<text x="619.06" y="647" font-size="16" transform="rotate(-45 619.06 647)">1,587,342</text>
<rect x="637.85" y="656.09" width="14.4" height="3.61" fill="#3da84a"/>
<text x="642.75" y="649.1" font-size="16" transform="rotate(-45 642.75 649.1)">664,288</text>
<rect x="661.54" y="656.35" width="14.4" height="3.35" fill="#c5242a"/>
<text x="666.44" y="648.7" font-size="16" transform="rotate(-45 666.44 648.7)">615,848</text>
<rect x="685.23" y="657.87" width="14.4" height="1.83" fill="#b23c8c"/>
<text x="690.13" y="650.3" font-size="16" transform="rotate(-45 690.13 650.3)">335,970</text>
<rect x="708.92" y="658.1" width="14.4" height="1.6" fill="#d9534f"/>
<text x="713.82" y="651.7" font-size="16" transform="rotate(-45 713.82 651.7)">294,859</text>
<rect x="732.61" y="658.98" width="14.4" height="0.72" fill="#111111"/>
<text x="737.51" y="650.5" font-size="16" transform="rotate(-45 737.51 650.5)">132,883</text>
<rect x="756.3" y="659.2" width="14.4" height="0.5" fill="#888888"/>
<text x="761.2" y="648.6" font-size="16" transform="rotate(-45 761.2 648.6)">65,093</text>
<rect x="779.99" y="659.2" width="14.4" height="0.5" fill="#cccccc"/>
<text x="784.89" y="649.6" font-size="16" transform="rotate(-45 784.89 649.6)">29,741</text>
<rect x="803.68" y="659.2" width="14.4" height="0.5" fill="#cccccc"/>
<text x="808.58" y="647.9" font-size="16" transform="rotate(-45 808.58 647.9)">14,719</text>
<rect x="827.37" y="659.2" width="14.4" height="0.5" fill="#cccccc"/>
<text x="832.27" y="647.6" font-size="16" transform="rotate(-45 832.27 647.6)">10,035</text>
<rect x="851.06" y="659.2" width="14.4" height="0.5" fill="#cccccc"/>
<text x="855.96" y="645.8" font-size="16" transform="rotate(-45 855.96 645.8)">8,315</text>
<circle cx="526.6" cy="677.9" r="3.3" fill="#e6e6e6" />
<circle cx="526.6" cy="707.5" r="3.3" fill="#e6e6e6" />
<circle cx="526.6" cy="737.1" r="3.3" fill="#e6e6e6" />
<circle cx="526.6" cy="766.6" r="3.45" fill="#000" />
<circle cx="550.29" cy="677.9" r="3.3" fill="#e6e6e6" />
<circle cx="550.29" cy="707.5" r="3.3" fill="#e6e6e6" />
<line x1="550.29" y1="737.1" x2="550.29" y2="766.6" stroke="#2a2a2a" stroke-width="1.4" />
<circle cx="550.29" cy="737.1" r="3.45" fill="#000" />
<circle cx="550.29" cy="766.6" r="3.45" fill="#000" />
<line x1="573.98" y1="677.9" x2="573.98" y2="766.6" stroke="#2a2a2a" stroke-width="1.4" />
<circle cx="573.98" cy="677.9" r="3.45" fill="#000" />
<circle cx="573.98" cy="707.5" r="3.45" fill="#000" />
<circle cx="573.98" cy="737.1" r="3.45" fill="#000" />
<circle cx="573.98" cy="766.6" r="3.45" fill="#000" />
<circle cx="597.67" cy="677.9" r="3.3" fill="#e6e6e6" />
<line x1="597.67" y1="707.5" x2="597.67" y2="766.6" stroke="#2a2a2a" stroke-width="1.4" />
<circle cx="597.67" cy="707.5" r="3.45" fill="#000" />
<circle cx="597.67" cy="737.1" r="3.45" fill="#000" />
<circle cx="597.67" cy="766.6" r="3.45" fill="#000" />
<circle cx="621.36" cy="707.5" r="3.3" fill="#e6e6e6" />
<line x1="621.36" y1="677.9" x2="621.36" y2="766.6" stroke="#2a2a2a" stroke-width="1.4" />
<circle cx="621.36" cy="677.9" r="3.45" fill="#000" />
<circle cx="621.36" cy="737.1" r="3.45" fill="#000" />
<circle cx="621.36" cy="766.6" r="3.45" fill="#000" />
<circle cx="645.05" cy="677.9" r="3.3" fill="#e6e6e6" />
<circle cx="645.05" cy="737.1" r="3.3" fill="#e6e6e6" />
<line x1="645.05" y1="707.5" x2="645.05" y2="766.6" stroke="#2a2a2a" stroke-width="1.4" />
<circle cx="645.05" cy="707.5" r="3.45" fill="#000" />
<circle cx="645.05" cy="766.6" r="3.45" fill="#000" />
<circle cx="668.74" cy="677.9" r="3.3" fill="#e6e6e6" />
<circle cx="668.74" cy="707.5" r="3.3" fill="#e6e6e6" />
<circle cx="668.74" cy="766.6" r="3.3" fill="#e6e6e6" />
<circle cx="668.74" cy="737.1" r="3.45" fill="#000" />
<circle cx="692.43" cy="737.1" r="3.3" fill="#e6e6e6" />
<line x1="692.43" y1="677.9" x2="692.43" y2="766.6" stroke="#2a2a2a" stroke-width="1.4" />
<circle cx="692.43" cy="677.9" r="3.45" fill="#000" />
<circle cx="692.43" cy="707.5" r="3.45" fill="#000" />
<circle cx="692.43" cy="766.6" r="3.45" fill="#000" />
<circle cx="716.12" cy="707.5" r="3.3" fill="#e6e6e6" />
<circle cx="716.12" cy="737.1" r="3.3" fill="#e6e6e6" />
<line x1="716.12" y1="677.9" x2="716.12" y2="766.6" stroke="#2a2a2a" stroke-width="1.4" />
<circle cx="716.12" cy="677.9" r="3.45" fill="#000" />
<circle cx="716.12" cy="766.6" r="3.45" fill="#000" />
<circle cx="739.81" cy="677.9" r="3.3" fill="#e6e6e6" />
<circle cx="739.81" cy="766.6" r="3.3" fill="#e6e6e6" />
<line x1="739.81" y1="707.5" x2="739.81" y2="737.1" stroke="#2a2a2a" stroke-width="1.4" />
<circle cx="739.81" cy="707.5" r="3.45" fill="#000" />
<circle cx="739.81" cy="737.1" r="3.45" fill="#000" />
<circle cx="763.5" cy="766.6" r="3.3" fill="#e6e6e6" />
<line x1="763.5" y1="677.9" x2="763.5" y2="737.1" stroke="#2a2a2a" stroke-width="1.4" />
<circle cx="763.5" cy="677.9" r="3.45" fill="#000" />
<circle cx="763.5" cy="707.5" r="3.45" fill="#000" />
<circle cx="763.5" cy="737.1" r="3.45" fill="#000" />
<circle cx="787.19" cy="677.9" r="3.3" fill="#e6e6e6" />
<circle cx="787.19" cy="737.1" r="3.3" fill="#e6e6e6" />
<circle cx="787.19" cy="766.6" r="3.3" fill="#e6e6e6" />
<circle cx="787.19" cy="707.5" r="3.45" fill="#000" />
<circle cx="810.88" cy="707.5" r="3.3" fill="#e6e6e6" />
<circle cx="810.88" cy="737.1" r="3.3" fill="#e6e6e6" />
<circle cx="810.88" cy="766.6" r="3.3" fill="#e6e6e6" />
<circle cx="810.88" cy="677.9" r="3.45" fill="#000" />
<circle cx="834.57" cy="707.5" r="3.3" fill="#e6e6e6" />
<circle cx="834.57" cy="766.6" r="3.3" fill="#e6e6e6" />
<line x1="834.57" y1="677.9" x2="834.57" y2="737.1" stroke="#2a2a2a" stroke-width="1.4" />
<circle cx="834.57" cy="677.9" r="3.45" fill="#000" />
<circle cx="834.57" cy="737.1" r="3.45" fill="#000" />
<circle cx="858.26" cy="737.1" r="3.3" fill="#e6e6e6" />
<circle cx="858.26" cy="766.6" r="3.3" fill="#e6e6e6" />
<line x1="858.26" y1="677.9" x2="858.26" y2="707.5" stroke="#2a2a2a" stroke-width="1.4" />
<circle cx="858.26" cy="677.9" r="3.45" fill="#000" />
<circle cx="858.26" cy="707.5" r="3.45" fill="#000" />
<rect x="459.2" y="672.6" width="17.9" height="11.5" fill="#7e3f98" stroke="#888" stroke-width="0.5"/>
<text x="474.2" y="669.9" font-size="16.3" text-anchor="end">fish</text>
<rect x="449.4" y="702" width="27.7" height="11.9" fill="#1f8a9e" stroke="#888" stroke-width="0.5"/>
<text x="474.2" y="698.8" font-size="16.3" text-anchor="end">amphilian</text>
<rect x="431.1" y="731.8" width="46" height="11.5" fill="#b71c24" stroke="#888" stroke-width="0.5"/>
<text x="474.2" y="728.6" font-size="16.3" text-anchor="end">birds</text>
<rect x="377.9" y="760.7" width="99.2" height="12" fill="#e8701a" stroke="#888" stroke-width="0.5"/>
<text x="474.2" y="757.6" font-size="16.3" text-anchor="end">mammals</text>
<line x1="373.2" y1="779.6" x2="481.8" y2="779.6" stroke="#a8a8a8" stroke-width="1" />
<line x1="374.3" y1="777.6" x2="374.3" y2="780" stroke="#a8a8a8" stroke-width="1" />
<text x="379.2" y="796.6" font-size="16.3" text-anchor="middle">60</text>
<line x1="408.6" y1="777.6" x2="408.6" y2="780" stroke="#a8a8a8" stroke-width="1" />
<text x="409.4" y="796.6" font-size="16.3" text-anchor="middle">40</text>
<line x1="443" y1="777.6" x2="443" y2="780" stroke="#a8a8a8" stroke-width="1" />
<text x="444.5" y="796.6" font-size="16.3" text-anchor="middle">20</text>
<line x1="477.1" y1="777.6" x2="477.1" y2="780" stroke="#a8a8a8" stroke-width="1" />
<text x="476.7" y="796.6" font-size="16.3" text-anchor="middle">0</text>
<text x="488" y="796.2" font-size="16.5">Mb</text>
<text x="432.4" y="816.6" font-size="16.5" text-anchor="middle">Set size</text>
</g>
<g>
<text x="903" y="434.6" font-size="21.5" font-weight="bold">g</text>
<text x="927" y="627.4" font-size="13.1" text-anchor="middle" transform="rotate(-90 927 627.4)">Transposable elements (%)</text>
<line x1="968.8" y1="446.3" x2="968.8" y2="490.2" stroke="#000" stroke-width="1.1" />
<line x1="968.2" y1="489.7" x2="1177.2" y2="489.7" stroke="#222" stroke-width="1.05" />
<line x1="966.2" y1="455" x2="968.8" y2="455" stroke="#333" stroke-width="0.9" />
<text x="963.4" y="459" font-size="11.2" text-anchor="end">0.02</text>
<line x1="966.2" y1="471.25" x2="968.8" y2="471.25" stroke="#333" stroke-width="0.9" />
<text x="963.4" y="475.25" font-size="11.2" text-anchor="end">0.01</text>
<line x1="966.2" y1="487.5" x2="968.8" y2="487.5" stroke="#333" stroke-width="0.9" />
<text x="963.4" y="491.5" font-size="11.2" text-anchor="end">0.00</text>
<path d="M978.9,487.5C979.6,487.01 982.17,486.08 983.57,484.25C984.97,482.42 986.84,477.38 988.24,475.31C989.65,473.24 991.51,470.44 992.92,470.44C994.32,470.44 996.19,473.61 997.59,475.31C998.99,477.02 1000.68,480.47 1002.26,481.81C1003.84,483.15 1005.47,483.84 1008.1,484.25C1010.73,484.66 1015.4,484.57 1019.78,484.57C1024.16,484.57 1033.27,484.79 1037.3,484.25C1041.33,483.71 1044.37,482.34 1046.64,481C1048.92,479.66 1050.73,476.65 1052.48,475.31C1054.24,473.97 1056.57,472.06 1058.32,472.06C1060.08,472.06 1062.41,474.09 1064.16,475.31C1065.92,476.53 1067.9,479.09 1070,480.19C1072.11,481.28 1074.33,482.02 1078.18,482.62C1082.03,483.23 1091.32,483.96 1095.7,484.25C1100.08,484.54 1103.88,484.62 1107.38,484.57C1110.88,484.53 1115.56,483.85 1119.06,483.93C1122.56,484 1127.24,484.72 1130.74,485.06C1134.24,485.4 1138.92,485.83 1142.42,486.2C1145.92,486.57 1152.35,487.31 1154.1,487.5" fill="none" stroke="#d62728" stroke-width="1.35" stroke-linejoin="round"/>
<path d="M978.9,487.01C982.4,486.89 995.25,486.42 1002.26,486.2C1009.27,485.98 1018.61,485.6 1025.62,485.55C1032.63,485.5 1041.97,485.88 1048.98,485.88C1055.99,485.88 1066.21,485.67 1072.34,485.55C1078.47,485.43 1086.01,485.26 1089.86,485.06C1093.71,484.87 1095.76,484.74 1098.04,484.25C1100.31,483.76 1103.12,482.91 1105.04,481.81C1106.97,480.72 1109.13,478.64 1110.88,476.94C1112.64,475.23 1115.15,472.22 1116.72,470.44C1118.3,468.66 1119.99,466.29 1121.4,465.07C1122.8,463.86 1124.84,462.36 1126.07,462.31C1127.29,462.26 1128.52,463.65 1129.57,464.75C1130.62,465.85 1132.02,468.28 1133.08,469.62C1134.13,470.97 1135.53,472.59 1136.58,473.69C1137.63,474.78 1139.03,476.08 1140.08,476.94C1141.14,477.79 1142.54,478.47 1143.59,479.38C1144.64,480.28 1146.04,481.93 1147.09,482.95C1148.14,483.97 1149.54,485.52 1150.6,486.2C1151.65,486.88 1153.57,487.31 1154.1,487.5" fill="none" stroke="#1f77b4" stroke-width="1.35" stroke-linejoin="round"/>
<path d="M978.9,486.69C982.4,486.57 995.25,486.24 1002.26,485.88C1009.27,485.51 1019.49,484.69 1025.62,484.25C1031.75,483.81 1038.76,483.39 1043.14,482.95C1047.52,482.51 1051.32,481.67 1054.82,481.32C1058.32,480.98 1062.12,480.72 1066.5,480.68C1070.88,480.63 1079.64,481 1084.02,481C1088.4,481 1092.55,480.92 1095.7,480.68C1098.85,480.43 1102.59,479.86 1105.04,479.38C1107.5,478.89 1109.95,478.16 1112.05,477.43C1114.15,476.69 1117.13,475.55 1119.06,474.5C1120.99,473.45 1123.32,471.66 1124.9,470.44C1126.48,469.22 1128.35,467.23 1129.57,466.38C1130.8,465.52 1132.02,464.63 1133.08,464.75C1134.13,464.87 1135.53,465.73 1136.58,467.19C1137.63,468.65 1139.03,472.31 1140.08,474.5C1141.14,476.69 1142.54,480.11 1143.59,481.81C1144.64,483.52 1145.87,485.02 1147.09,485.88C1148.32,486.73 1151.06,487.26 1151.76,487.5" fill="none" stroke="#2ca02c" stroke-width="1.35" stroke-linejoin="round"/>
<path d="M978.9,487.5C980.65,487.38 987.08,486.93 990.58,486.69C994.08,486.44 997.88,486.24 1002.26,485.88C1006.64,485.51 1014.52,484.69 1019.78,484.25C1025.04,483.81 1032.92,483.44 1037.3,482.95C1041.68,482.46 1045.83,481.73 1048.98,481C1052.13,480.27 1055.87,478.85 1058.32,478.07C1060.78,477.3 1063.4,476.29 1065.33,475.8C1067.26,475.31 1069.07,474.82 1071.17,474.82C1073.27,474.82 1077.6,475.9 1079.35,475.8C1081.1,475.7 1081.8,474.74 1082.85,474.18C1083.9,473.61 1085.13,472.06 1086.36,472.06C1087.58,472.06 1089.63,473.57 1091.03,474.18C1092.43,474.78 1094.12,475.74 1095.7,476.12C1097.28,476.51 1099.79,476.34 1101.54,476.77C1103.29,477.21 1105.8,478.29 1107.38,479.05C1108.96,479.81 1110.65,481.28 1112.05,481.81C1113.45,482.35 1115.67,482.87 1116.72,482.62C1117.78,482.38 1118.36,480.87 1119.06,480.19C1119.76,479.5 1120.7,478.07 1121.4,478.07C1122.1,478.07 1122.86,479.26 1123.73,480.19C1124.61,481.11 1125.83,483.45 1127.24,484.25C1128.64,485.05 1130.8,485.18 1133.08,485.55C1135.35,485.92 1139.62,486.39 1142.42,486.69C1145.22,486.98 1150.36,487.38 1151.76,487.5" fill="none" stroke="#9467bd" stroke-width="1.35" stroke-linejoin="round"/>
<path d="M978.9,487.5C979.78,487.38 982.99,487.3 984.74,486.69C986.49,486.08 988.48,484.78 990.58,483.44C992.68,482.1 996.3,479.53 998.76,477.75C1001.21,475.97 1004.83,472.75 1006.93,471.57C1009.03,470.4 1011.02,469.95 1012.77,469.95C1014.52,469.95 1016.68,470.84 1018.61,471.57C1020.54,472.31 1023.69,474.02 1025.62,474.82C1027.55,475.63 1029.36,476.62 1031.46,476.94C1033.56,477.25 1037.36,476.77 1039.64,476.94C1041.91,477.11 1044.37,477.59 1046.64,478.07C1048.92,478.56 1052.37,479.63 1054.82,480.19C1057.27,480.75 1060.37,481.4 1063,481.81C1065.62,482.23 1069.19,482.58 1072.34,482.95C1075.49,483.32 1080.52,483.93 1084.02,484.25C1087.52,484.57 1092.2,484.82 1095.7,485.06C1099.2,485.31 1103.88,485.66 1107.38,485.88C1110.88,486.09 1114.68,486.35 1119.06,486.52C1123.44,486.7 1131.32,486.91 1136.58,487.01C1141.84,487.11 1147.97,487.15 1154.1,487.18C1160.23,487.2 1173.96,487.18 1177.46,487.18" fill="none" stroke="#ff7f0e" stroke-width="1.35" stroke-linejoin="round"/>
<text x="971.7" y="455.9" font-size="13.1">Genome:2.76 Gb; TEs: 650.87 Mb</text>
<rect x="1177.2" y="441.3" width="12.2" height="49" fill="#fff" stroke="#000" stroke-width="1.5"/>
<text x="1180.2" y="465.5" font-size="11.6" text-anchor="middle" transform="rotate(90 1180.2 465.5)">salmon</text>
<line x1="968.8" y1="500.5" x2="968.8" y2="547.3" stroke="#555" stroke-width="1.1" />
<line x1="968.2" y1="546.8" x2="1177.2" y2="546.8" stroke="#222" stroke-width="1.05" />
<line x1="966.2" y1="503.1" x2="968.8" y2="503.1" stroke="#333" stroke-width="0.9" />
<text x="963.4" y="507.1" font-size="11.2" text-anchor="end">0.10</text>
<line x1="966.2" y1="523.6" x2="968.8" y2="523.6" stroke="#333" stroke-width="0.9" />
<text x="963.4" y="527.6" font-size="11.2" text-anchor="end">0.05</text>
<line x1="966.2" y1="544.1" x2="968.8" y2="544.1" stroke="#333" stroke-width="0.9" />
<text x="963.4" y="548.1" font-size="11.2" text-anchor="end">0.00</text>
<path d="M980.06,542.05C980.71,541.87 982.98,541.62 984.39,540.82C985.8,540.02 987.99,537.83 989.48,536.72C990.97,535.61 992.79,533.69 994.32,533.44C995.84,533.19 997.98,535.14 999.66,535.08C1001.34,535.02 1003.8,533.03 1005.51,533.03C1007.23,533.03 1009.51,535.14 1011.11,535.08C1012.72,535.02 1014.71,533.48 1016.2,532.62C1017.69,531.76 1019.7,529.46 1021.04,529.34C1022.37,529.22 1023.74,530.82 1025.11,531.8C1026.48,532.78 1028.52,534.67 1030.2,535.9C1031.88,537.13 1034.78,538.95 1036.31,540C1037.84,541.05 1039.01,542.29 1040.38,542.87C1041.75,543.45 1044.71,543.74 1045.47,543.89" fill="none" stroke="#d62728" stroke-width="1.35" stroke-linejoin="round"/>
<path d="M980.06,542.46C981.09,542.46 984.76,542.58 986.93,542.46C989.11,542.34 992.28,542.13 994.57,541.64C996.86,541.15 999.91,539.92 1002.2,539.18C1004.5,538.44 1007.93,537.58 1009.84,536.72C1011.75,535.86 1013.59,534.79 1014.93,533.44C1016.27,532.09 1017.68,529.05 1018.75,527.7C1019.82,526.35 1021.1,524.67 1022.06,524.42C1023.01,524.17 1024.16,525.57 1025.11,526.06C1026.06,526.55 1027.46,527.7 1028.42,527.7C1029.37,527.7 1030.71,526.43 1031.47,526.06C1032.24,525.69 1032.82,524.69 1033.51,525.24C1034.2,525.79 1035.29,527.84 1036.05,529.75C1036.82,531.66 1037.76,535.98 1038.6,537.95C1039.44,539.92 1040.62,541.95 1041.65,542.87C1042.68,543.79 1044.9,543.92 1045.47,544.1" fill="none" stroke="#1f77b4" stroke-width="1.35" stroke-linejoin="round"/>
<path d="M980.06,540C981.09,540 984.76,540.06 986.93,540C989.11,539.94 991.9,539.71 994.57,539.59C997.24,539.47 1001.7,539.36 1004.75,539.18C1007.8,539 1012.26,538.73 1014.93,538.36C1017.6,537.99 1020.73,537.7 1022.56,536.72C1024.4,535.74 1026,533.77 1027.15,531.8C1028.29,529.83 1029.28,526.06 1030.2,523.6C1031.12,521.14 1032.41,516.32 1033.25,515.4C1034.09,514.48 1035.04,515.61 1035.8,517.45C1036.56,519.3 1037.58,524.62 1038.34,527.7C1039.11,530.78 1040.13,535.86 1040.89,537.95C1041.65,540.04 1041.98,540.9 1043.43,541.64C1044.88,542.38 1048.35,542.53 1050.56,542.87C1052.77,543.21 1057.05,543.74 1058.19,543.89" fill="none" stroke="#2ca02c" stroke-width="1.35" stroke-linejoin="round"/>
<path d="M980.06,543.28C981.09,542.91 984.76,541.44 986.93,540.82C989.11,540.21 991.9,539.55 994.57,539.18C997.24,538.81 1001.7,538.67 1004.75,538.36C1007.8,538.05 1012.45,537.62 1014.93,537.13C1017.41,536.64 1019.77,536 1021.29,535.08C1022.82,534.16 1024.08,532.7 1025.11,530.98C1026.14,529.26 1027.32,525.57 1028.16,523.6C1029,521.63 1029.95,518.17 1030.71,517.86C1031.47,517.55 1032.49,519.46 1033.25,521.55C1034.02,523.64 1035,529.03 1035.8,531.8C1036.6,534.57 1037.72,538.28 1038.6,540C1039.48,541.72 1040.62,542.66 1041.65,543.28C1042.68,543.89 1044.9,543.98 1045.47,544.1" fill="none" stroke="#9467bd" stroke-width="1.35" stroke-linejoin="round"/>
<path d="M980.06,542.87C981.09,542.87 984.76,542.99 986.93,542.87C989.11,542.75 992.66,542.6 994.57,542.05C996.48,541.5 998.32,541.33 999.66,539.18C1001,537.03 1002.33,532.19 1003.48,527.7C1004.62,523.21 1006.23,512.91 1007.29,509.25C1008.36,505.59 1009.61,503.49 1010.6,503.31C1011.6,503.12 1012.88,504.98 1013.91,508.02C1014.94,511.06 1016.37,519.3 1017.47,523.6C1018.58,527.9 1020.15,533.89 1021.29,536.72C1022.44,539.55 1023.77,541.41 1025.11,542.46C1026.45,543.51 1027.53,543.47 1030.2,543.69C1032.87,543.91 1035.29,543.86 1042.92,543.89C1050.56,543.93 1062.39,543.89 1081.1,543.89C1099.81,543.89 1154.65,543.89 1167.63,543.89" fill="none" stroke="#ff7f0e" stroke-width="1.35" stroke-linejoin="round"/>
<text x="970.5" y="511" font-size="13.1">Genome:863.48M; TEs: 71.83M</text>
<rect x="1177.2" y="499.3" width="12.2" height="48.1" fill="#fff" stroke="#000" stroke-width="1.5"/>
<text x="1180.2" y="523.05" font-size="11.6" text-anchor="middle" transform="rotate(90 1180.2 523.05)">clowfish</text>
<line x1="968.8" y1="552.2" x2="968.8" y2="599.1" stroke="#555" stroke-width="1.1" />
<line x1="968.2" y1="598.6" x2="1177.2" y2="598.6" stroke="#222" stroke-width="1.05" />
<line x1="966.2" y1="555.2" x2="968.8" y2="555.2" stroke="#333" stroke-width="0.9" />
<text x="963.4" y="559.2" font-size="11.2" text-anchor="end">0.10</text>
<line x1="966.2" y1="576.2" x2="968.8" y2="576.2" stroke="#333" stroke-width="0.9" />
<text x="963.4" y="580.2" font-size="11.2" text-anchor="end">0.05</text>
<line x1="966.2" y1="597.2" x2="968.8" y2="597.2" stroke="#333" stroke-width="0.9" />
<text x="963.4" y="601.2" font-size="11.2" text-anchor="end">0.00</text>
<path d="M980.06,596.36C983.77,596.3 997.23,596.19 1004.75,595.94C1012.27,595.69 1023.33,595.06 1030.2,594.68C1037.07,594.3 1045.6,593.86 1050.56,593.42C1055.52,592.98 1059.85,592.37 1063.28,591.74C1066.72,591.11 1070.6,589.82 1073.46,589.22C1076.33,588.62 1079.7,588 1082.37,587.75C1085.04,587.5 1088.99,587.38 1091.28,587.54C1093.57,587.7 1095.73,588.17 1097.64,588.8C1099.55,589.43 1101.91,590.86 1104,591.74C1106.1,592.62 1109.35,593.99 1111.64,594.68C1113.93,595.37 1116.22,596 1119.27,596.36C1122.33,596.72 1130.09,596.97 1132,597.07" fill="none" stroke="#d62728" stroke-width="1.35" stroke-linejoin="round"/>
<path d="M980.06,596.36C983,596.17 994.81,595.54 999.66,595.1C1004.51,594.66 1009.33,593.77 1012.38,593.42C1015.44,593.07 1017.35,592.79 1020.02,592.79C1022.69,592.79 1025.62,593.26 1030.2,593.42C1034.78,593.58 1044.83,593.71 1050.56,593.84C1056.29,593.97 1063.03,594.26 1068.38,594.26C1073.72,594.26 1081.99,594.22 1086.19,593.84C1090.39,593.46 1093.7,592.43 1096.37,591.74C1099.04,591.05 1101.91,589.79 1104,589.22C1106.1,588.65 1108.65,588.02 1110.37,587.96C1112.09,587.9 1113.93,588.11 1115.46,588.8C1116.98,589.49 1119.02,591.51 1120.55,592.58C1122.07,593.65 1123.92,595.25 1125.64,595.94C1127.36,596.63 1131.05,597.01 1132,597.2" fill="none" stroke="#1f77b4" stroke-width="1.35" stroke-linejoin="round"/>
<path d="M979.55,582.5C979.82,583.13 980.76,585.12 981.34,586.7C981.91,588.28 982.68,591.55 983.37,593C984.06,594.45 984.62,595.86 985.92,596.36C987.21,596.86 989.2,596.42 992.02,596.36C994.85,596.3 999.02,596.13 1004.75,595.94C1010.48,595.75 1022.57,595.29 1030.2,595.1C1037.84,594.91 1048.78,594.74 1055.65,594.68C1062.52,594.62 1071.05,594.87 1076.01,594.68C1080.97,594.49 1085.3,593.99 1088.73,593.42C1092.17,592.85 1096.24,591.72 1098.91,590.9C1101.59,590.08 1104.64,588.84 1106.55,587.96C1108.46,587.08 1110.42,585.65 1111.64,585.02C1112.86,584.39 1113.74,583.63 1114.69,583.76C1115.65,583.89 1116.93,584.79 1118,585.86C1119.07,586.93 1120.67,589.58 1121.82,590.9C1122.97,592.22 1124.49,593.8 1125.64,594.68C1126.78,595.56 1127.74,596.4 1129.45,596.78C1131.17,597.16 1135.94,597.14 1137.09,597.2" fill="none" stroke="#2ca02c" stroke-width="1.35" stroke-linejoin="round"/>
<path d="M980.06,595.94C982.24,595.81 990.1,595.42 994.57,595.1C999.04,594.78 1005.26,594.16 1009.84,593.84C1014.42,593.52 1020.91,593.28 1025.11,593C1029.31,592.72 1034.02,592.01 1037.84,591.95C1041.65,591.89 1046.36,592.36 1050.56,592.58C1054.76,592.8 1061.25,593.23 1065.83,593.42C1070.41,593.61 1077.28,593.9 1081.1,593.84C1084.92,593.78 1088.42,593.28 1091.28,593C1094.14,592.72 1097.52,592.08 1100.19,591.95C1102.86,591.82 1106.61,591.88 1109.1,592.16C1111.58,592.44 1114.44,593.27 1116.73,593.84C1119.02,594.41 1121.31,595.44 1124.37,595.94C1127.42,596.44 1135.18,597.01 1137.09,597.2" fill="none" stroke="#9467bd" stroke-width="1.35" stroke-linejoin="round"/>
<path d="M980.06,596.78C983.77,596.78 997.23,596.84 1004.75,596.78C1012.27,596.72 1025.24,596.55 1030.2,596.36C1035.16,596.17 1036.12,596.02 1037.84,595.52C1039.55,595.02 1040.51,594.32 1041.65,593C1042.8,591.68 1044.32,589.09 1045.47,586.7C1046.62,584.31 1048.03,579.56 1049.29,577.04C1050.55,574.52 1052.53,570.34 1053.87,569.9C1055.2,569.46 1056.97,572.27 1058.19,574.1C1059.42,575.93 1060.68,579.69 1062.01,582.08C1063.35,584.47 1065.38,588.36 1067.1,590.06C1068.82,591.76 1071.37,592.73 1073.46,593.42C1075.56,594.11 1078.05,594.3 1081.1,594.68C1084.15,595.06 1090.01,595.62 1093.83,595.94C1097.64,596.26 1100.82,596.62 1106.55,596.78C1112.28,596.94 1122.84,596.96 1132,596.99C1141.16,597.02 1162.29,596.99 1167.63,596.99" fill="none" stroke="#ff7f0e" stroke-width="1.35" stroke-linejoin="round"/>
<text x="970.5" y="565.3" font-size="13.1">Genome:731.62M; TEs: 48.38M</text>
<rect x="1177.2" y="552.2" width="12.2" height="47" fill="#fff" stroke="#000" stroke-width="1.5"/>
<text x="1180.2" y="575.4" font-size="11.6" text-anchor="middle" transform="rotate(90 1180.2 575.4)">guppy</text>
<line x1="968.8" y1="604" x2="968.8" y2="651.5" stroke="#555" stroke-width="1.1" />
<line x1="968.2" y1="651" x2="1177.2" y2="651" stroke="#222" stroke-width="1.05" />
<line x1="966.2" y1="608.1" x2="968.8" y2="608.1" stroke="#333" stroke-width="0.9" />
<text x="963.4" y="612.1" font-size="11.2" text-anchor="end">0.10</text>
<line x1="966.2" y1="627.6" x2="968.8" y2="627.6" stroke="#333" stroke-width="0.9" />
<text x="963.4" y="631.6" font-size="11.2" text-anchor="end">0.05</text>
<line x1="966.2" y1="648.8" x2="968.8" y2="648.8" stroke="#333" stroke-width="0.9" />
<text x="963.4" y="652.8" font-size="11.2" text-anchor="end">0.00</text>
<path d="M980.06,649.2C981.09,648.95 984.76,648.07 986.93,647.5C989.11,646.93 992.28,646.01 994.57,645.38C996.86,644.74 1000.11,644.01 1002.2,643.25C1004.3,642.49 1006.85,641.3 1008.57,640.28C1010.29,639.26 1012.32,637.53 1013.66,636.45C1014.99,635.37 1016.29,633.82 1017.47,633.05C1018.66,632.29 1020.4,631.35 1021.55,631.35C1022.69,631.35 1024,632.16 1025.11,633.05C1026.22,633.94 1027.78,636.03 1028.93,637.3C1030.07,638.58 1031.41,640.53 1032.74,641.55C1034.08,642.57 1035.93,643.46 1037.84,644.1C1039.74,644.74 1043.18,645.23 1045.47,645.8C1047.76,646.37 1050.81,647.42 1053.11,647.93C1055.4,648.44 1059.59,649.01 1060.74,649.2" fill="none" stroke="#d62728" stroke-width="1.35" stroke-linejoin="round"/>
<path d="M980.06,647.08C980.71,647.2 982.6,647.86 984.39,647.93C986.18,647.99 989.93,647.75 992.02,647.5C994.12,647.25 996.86,646.99 998.39,646.23C999.91,645.46 1001.14,644.12 1002.2,642.4C1003.27,640.68 1004.6,636.6 1005.51,634.75C1006.43,632.9 1007.51,630.2 1008.31,630.08C1009.11,629.95 1010.06,632.43 1010.86,633.9C1011.66,635.37 1012.66,638.45 1013.66,639.85C1014.65,641.25 1016.14,642.55 1017.47,643.25C1018.81,643.95 1020.66,644.14 1022.56,644.53C1024.47,644.91 1028.48,645.8 1030.2,645.8C1031.92,645.8 1032.95,645.42 1034.02,644.53C1035.09,643.63 1036.37,641.7 1037.33,639.85C1038.28,638 1039.43,634.11 1040.38,632.2C1041.33,630.29 1042.77,627.23 1043.69,627.1C1044.6,626.97 1045.61,629.44 1046.49,631.35C1047.37,633.26 1048.55,637.62 1049.54,639.85C1050.53,642.08 1052,644.89 1053.11,646.23C1054.21,647.56 1055.78,648.33 1056.92,648.78C1058.07,649.22 1060.17,649.14 1060.74,649.2" fill="none" stroke="#1f77b4" stroke-width="1.35" stroke-linejoin="round"/>
<path d="M979.55,639.85C979.82,640.49 980.76,643.02 981.34,644.1C981.91,645.18 982.15,646.5 983.37,647.08C984.59,647.65 987.42,647.93 989.48,647.93C991.54,647.93 994.82,647.27 997.12,647.08C999.41,646.88 1001.7,646.65 1004.75,646.65C1007.8,646.65 1014.04,646.95 1017.47,647.08C1020.91,647.2 1025.36,647.63 1027.65,647.5C1029.95,647.37 1031.49,647.12 1032.74,646.23C1034,645.33 1035.06,643.65 1036.05,641.55C1037.05,639.45 1038.48,634.5 1039.36,632.2C1040.24,629.91 1041.22,627.46 1041.91,626.25C1042.59,625.04 1043.29,624 1043.94,624.12C1044.59,624.25 1045.43,625.7 1046.23,627.1C1047.04,628.5 1048.26,631.44 1049.29,633.48C1050.32,635.51 1051.96,638.85 1053.11,640.7C1054.25,642.55 1055.78,644.65 1056.92,645.8C1058.07,646.95 1059.4,647.84 1060.74,648.35C1062.08,648.86 1065.07,649.07 1065.83,649.2" fill="none" stroke="#2ca02c" stroke-width="1.35" stroke-linejoin="round"/>
<path d="M980.06,648.35C980.71,648.16 983.17,647.65 984.39,647.08C985.61,646.5 987.02,645.23 988.21,644.53C989.39,643.82 990.56,642.85 992.28,642.4C994,641.95 997.6,641.93 999.66,641.55C1001.72,641.17 1004.11,640.17 1006.02,639.85C1007.93,639.53 1009.98,639.62 1012.38,639.43C1014.79,639.23 1019.77,638.38 1022.06,638.58C1024.35,638.77 1026.05,639.94 1027.65,640.7C1029.26,641.47 1031.14,642.91 1032.74,643.68C1034.35,644.44 1036.82,645.74 1038.34,645.8C1039.87,645.86 1041.67,644.99 1042.92,644.1C1044.18,643.21 1045.56,641 1046.74,639.85C1047.93,638.7 1049.75,636.45 1050.81,636.45C1051.88,636.45 1052.95,638.58 1053.87,639.85C1054.78,641.12 1055.89,643.74 1056.92,644.95C1057.95,646.16 1059.02,647.29 1060.74,647.93C1062.46,648.56 1067.23,649.01 1068.38,649.2" fill="none" stroke="#9467bd" stroke-width="1.35" stroke-linejoin="round"/>
<path d="M980.06,649.2C981.09,649.07 984.95,648.99 986.93,648.35C988.92,647.71 991.58,645.33 993.3,644.95C995.02,644.57 996.67,645.48 998.39,645.8C1000.11,646.12 1003.03,646.95 1004.75,647.08C1006.47,647.2 1008.62,647.22 1009.84,646.65C1011.06,646.08 1011.98,644.91 1012.89,643.25C1013.81,641.59 1015.03,638.4 1015.95,635.6C1016.86,632.8 1018.05,627.23 1019,624.55C1019.96,621.87 1021.39,617.88 1022.31,617.75C1023.23,617.62 1024.19,621.41 1025.11,623.7C1026.03,626 1027.35,630.37 1028.42,633.05C1029.49,635.73 1031.01,639.64 1032.24,641.55C1033.46,643.46 1034.96,644.84 1036.56,645.8C1038.17,646.76 1040.83,647.47 1042.92,647.93C1045.02,648.38 1044.83,648.7 1050.56,648.86C1056.29,649.02 1063.54,648.97 1081.1,648.99C1098.66,649.01 1154.65,648.99 1167.63,648.99" fill="none" stroke="#ff7f0e" stroke-width="1.35" stroke-linejoin="round"/>
<text x="972.5" y="618" font-size="13.1">Genome:428.43M; TEs: 43.40M</text>
<rect x="1177.2" y="603.6" width="12.2" height="48" fill="#fff" stroke="#000" stroke-width="1.5"/>
<text x="1180.2" y="627.3" font-size="11.6" text-anchor="middle" transform="rotate(90 1180.2 627.3)">pipefish</text>
<line x1="968.8" y1="655" x2="968.8" y2="702.5" stroke="#555" stroke-width="1.1" />
<line x1="968.2" y1="702" x2="1177.2" y2="702" stroke="#222" stroke-width="1.05" />
<line x1="966.2" y1="660.9" x2="968.8" y2="660.9" stroke="#333" stroke-width="0.9" />
<text x="963.4" y="664.9" font-size="11.2" text-anchor="end">0.10</text>
<line x1="966.2" y1="677.8" x2="968.8" y2="677.8" stroke="#333" stroke-width="0.9" />
<text x="963.4" y="681.8" font-size="11.2" text-anchor="end">0.05</text>
<line x1="966.2" y1="699.3" x2="968.8" y2="699.3" stroke="#333" stroke-width="0.9" />
<text x="963.4" y="703.3" font-size="11.2" text-anchor="end">0.00</text>
<path d="M980.06,698.88C981.86,698.7 988.32,698.08 992.02,697.65C995.73,697.22 1000.17,696.44 1004.75,696.01C1009.33,695.58 1017.22,695.09 1022.56,694.78C1027.91,694.47 1035.42,694.14 1040.38,693.96C1045.34,693.78 1051.07,693.49 1055.65,693.55C1060.23,693.61 1066.34,694 1070.92,694.37C1075.5,694.74 1081.61,695.52 1086.19,696.01C1090.77,696.5 1096.5,697.28 1101.46,697.65C1106.42,698.02 1113.93,698.22 1119.27,698.47C1124.62,698.72 1132.89,699.11 1137.09,699.29C1141.29,699.47 1145.74,699.64 1147.27,699.7" fill="none" stroke="#d62728" stroke-width="1.35" stroke-linejoin="round"/>
<path d="M980.06,697.65C980.71,697.77 981.45,698.47 984.39,698.47C987.33,698.47 994.7,697.96 999.66,697.65C1004.62,697.34 1010.99,696.73 1017.47,696.42C1023.96,696.11 1035.29,695.72 1042.92,695.6C1050.56,695.48 1060.74,695.48 1068.38,695.6C1076.01,695.72 1088.48,696.42 1093.83,696.42C1099.17,696.42 1101.33,695.91 1104,695.6C1106.68,695.29 1109.73,694.68 1111.64,694.37C1113.55,694.06 1115.39,693.8 1116.73,693.55C1118.07,693.3 1119.4,692.79 1120.55,692.73C1121.69,692.67 1123.22,693.2 1124.37,693.14C1125.51,693.08 1127.04,692.2 1128.18,692.32C1129.33,692.44 1130.66,693.28 1132,693.96C1133.34,694.64 1135.56,696.09 1137.09,696.83C1138.62,697.57 1140.65,698.45 1142.18,698.88C1143.71,699.31 1146.51,699.58 1147.27,699.7" fill="none" stroke="#1f77b4" stroke-width="1.35" stroke-linejoin="round"/>
<path d="M980.06,698.88C983,698.76 994.05,698.31 999.66,698.06C1005.27,697.81 1010.99,697.49 1017.47,697.24C1023.96,696.99 1035.29,696.54 1042.92,696.42C1050.56,696.3 1060.74,696.36 1068.38,696.42C1076.01,696.48 1088.1,696.89 1093.83,696.83C1099.55,696.77 1103.5,696.32 1106.55,696.01C1109.6,695.7 1112.09,695.21 1114.18,694.78C1116.28,694.35 1118.83,693.57 1120.55,693.14C1122.27,692.71 1124.11,691.97 1125.64,691.91C1127.16,691.85 1129.2,692.24 1130.73,692.73C1132.25,693.22 1134.29,694.39 1135.82,695.19C1137.34,695.99 1139.19,697.41 1140.91,698.06C1142.63,698.71 1146.32,699.28 1147.27,699.5" fill="none" stroke="#2ca02c" stroke-width="1.35" stroke-linejoin="round"/>
<path d="M980.06,698.88C981.86,698.7 988.32,698.08 992.02,697.65C995.73,697.22 1000.55,696.44 1004.75,696.01C1008.95,695.58 1015.44,695.12 1020.02,694.78C1024.6,694.44 1030.71,693.94 1035.29,693.75C1039.87,693.57 1045.98,693.46 1050.56,693.55C1055.14,693.64 1061.25,694.06 1065.83,694.37C1070.41,694.68 1076.52,695.17 1081.1,695.6C1085.68,696.03 1091.79,696.87 1096.37,697.24C1100.95,697.61 1107.06,697.88 1111.64,698.06C1116.22,698.24 1122.33,698.29 1126.91,698.47C1131.49,698.65 1139.13,699.11 1142.18,699.29C1145.23,699.47 1146.51,699.64 1147.27,699.7" fill="none" stroke="#9467bd" stroke-width="1.35" stroke-linejoin="round"/>
<path d="M980.06,699.7C983,699.64 994.05,699.41 999.66,699.29C1005.27,699.17 1012.89,699 1017.47,698.88C1022.06,698.76 1027.15,698.65 1030.2,698.47C1033.25,698.29 1035.93,698.08 1037.84,697.65C1039.74,697.22 1041.59,696.77 1042.92,695.6C1044.26,694.43 1045.67,691.58 1046.74,689.86C1047.81,688.14 1049.1,685.47 1050.05,684.12C1051.01,682.77 1052.19,680.96 1053.11,680.84C1054.02,680.72 1055.2,682.25 1056.16,683.3C1057.11,684.35 1058.4,686.64 1059.47,687.81C1060.54,688.98 1061.95,690.35 1063.28,691.09C1064.62,691.83 1066.08,692.36 1068.38,692.73C1070.67,693.1 1075.5,693.18 1078.55,693.55C1081.61,693.92 1085.68,694.64 1088.73,695.19C1091.79,695.74 1095.48,696.75 1098.91,697.24C1102.35,697.73 1106.68,698.16 1111.64,698.47C1116.6,698.78 1123.6,699.14 1132,699.29C1140.4,699.44 1162.29,699.46 1167.63,699.5" fill="none" stroke="#ff7f0e" stroke-width="1.35" stroke-linejoin="round"/>
<text x="971.5" y="673.4" font-size="13.1">Genome:474.31M; TEs: 36.51M</text>
<rect x="1177.2" y="654" width="12.2" height="48.6" fill="#fff" stroke="#000" stroke-width="1.5"/>
<text x="1180.2" y="678" font-size="11.6" text-anchor="middle" transform="rotate(90 1180.2 678)">scraper</text>
<line x1="968.8" y1="707" x2="968.8" y2="754.3" stroke="#555" stroke-width="1.1" />
<line x1="968.2" y1="753.8" x2="1177.2" y2="753.8" stroke="#222" stroke-width="1.05" />
<line x1="966.2" y1="713.2" x2="968.8" y2="713.2" stroke="#333" stroke-width="0.9" />
<text x="963.4" y="717.2" font-size="11.2" text-anchor="end">0.10</text>
<line x1="966.2" y1="731.2" x2="968.8" y2="731.2" stroke="#333" stroke-width="0.9" />
<text x="963.4" y="735.2" font-size="11.2" text-anchor="end">0.05</text>
<line x1="966.2" y1="751.8" x2="968.8" y2="751.8" stroke="#333" stroke-width="0.9" />
<text x="963.4" y="755.8" font-size="11.2" text-anchor="end">0.00</text>
<path d="M980.06,748.28C980.52,747.87 982.09,745.78 983.12,745.55C984.15,745.32 985.9,747.01 986.93,746.72C987.97,746.43 989.11,744.65 989.99,743.6C990.87,742.55 991.99,740.17 992.79,739.7C993.59,739.23 994.49,741.07 995.33,740.48C996.17,739.89 997.55,736.15 998.39,735.8C999.23,735.45 1000.13,736.85 1000.93,738.14C1001.73,739.43 1002.85,742.86 1003.73,744.38C1004.61,745.9 1005.49,747.81 1006.79,748.28C1008.08,748.75 1009.64,747.79 1012.38,747.5C1015.13,747.21 1020.91,746.62 1025.11,746.33C1029.31,746.04 1035.8,745.73 1040.38,745.55C1044.96,745.37 1051.07,745.1 1055.65,745.16C1060.23,745.22 1066.34,745.59 1070.92,745.94C1075.5,746.29 1081.15,747.15 1086.19,747.5C1091.23,747.85 1101.77,748.16 1104.51,748.28" fill="none" stroke="#d62728" stroke-width="1.35" stroke-linejoin="round"/>
<path d="M980.06,747.5C980.52,746.62 982.28,742 983.12,741.65C983.96,741.3 984.71,744.98 985.66,745.16C986.62,745.34 988.53,744.11 989.48,742.82C990.43,741.53 991.38,737.98 992.02,736.58C992.67,735.18 993.23,733.34 993.81,733.46C994.38,733.58 995.08,737.59 995.84,737.36C996.61,737.13 998.09,732.13 998.9,731.9C999.7,731.67 1000.46,734.16 1001.19,735.8C1001.91,737.44 1003.01,741.06 1003.73,742.82C1004.46,744.57 1005.11,746.51 1006.02,747.5C1006.94,748.49 1007.74,749.16 1009.84,749.45C1011.94,749.74 1016.2,749.51 1020.02,749.45C1023.84,749.39 1030.71,749.18 1035.29,749.06C1039.87,748.94 1046.74,748.9 1050.56,748.67C1054.38,748.44 1058.07,747.91 1060.74,747.5C1063.41,747.09 1066.31,746.41 1068.38,745.94C1070.44,745.47 1072.96,744.38 1074.48,744.38C1076.01,744.38 1077.37,745.59 1078.55,745.94C1079.74,746.29 1081.23,746.84 1082.37,746.72C1083.52,746.6 1084.78,745.75 1086.19,745.16C1087.6,744.57 1090.45,742.94 1091.79,742.82C1093.13,742.7 1094.03,743.74 1095.1,744.38C1096.17,745.02 1097.5,746.52 1098.91,747.11C1100.33,747.7 1103.67,748.1 1104.51,748.28" fill="none" stroke="#1f77b4" stroke-width="1.35" stroke-linejoin="round"/>
<path d="M980.06,748.28C980.71,748.16 983.17,748.09 984.39,747.5C985.61,746.91 987.06,745.32 988.21,744.38C989.35,743.44 991.07,742.08 992.02,741.26C992.98,740.44 993.88,739.04 994.57,738.92C995.26,738.8 995.96,741.24 996.61,740.48C997.25,739.72 998.21,734.32 998.9,733.85C999.58,733.38 1000.46,735.9 1001.19,737.36C1001.91,738.82 1002.89,741.96 1003.73,743.6C1004.57,745.24 1005.49,747.46 1006.79,748.28C1008.08,749.1 1009.64,749.12 1012.38,749.06C1015.13,749 1020.53,748.12 1025.11,747.89C1029.69,747.66 1038.34,747.62 1042.92,747.5C1047.51,747.38 1052.6,747.46 1055.65,747.11C1058.7,746.76 1061.38,745.75 1063.28,745.16C1065.19,744.57 1067.04,743.09 1068.38,743.21C1069.71,743.33 1070.67,745.3 1072.19,745.94C1073.72,746.58 1076.46,747.15 1078.55,747.5C1080.65,747.85 1084.09,748.22 1086.19,748.28C1088.29,748.34 1090.83,748.36 1092.55,747.89C1094.27,747.42 1096.31,745.86 1097.64,745.16C1098.98,744.46 1100.43,743.56 1101.46,743.21C1102.49,742.86 1104.06,742.88 1104.51,742.82" fill="none" stroke="#2ca02c" stroke-width="1.35" stroke-linejoin="round"/>
<path d="M980.06,749.45C980.71,749.04 983.17,747.25 984.39,746.72C985.61,746.19 987.14,746.88 988.21,745.94C989.28,745 990.75,741.77 991.52,740.48C992.28,739.19 992.65,737.48 993.3,737.36C993.95,737.24 994.89,739.99 995.84,739.7C996.8,739.41 998.71,735.82 999.66,735.41C1000.61,735 1001.44,735.86 1002.2,736.97C1002.97,738.08 1003.99,741.24 1004.75,742.82C1005.51,744.4 1006.15,746.91 1007.29,747.5C1008.44,748.09 1009.71,746.95 1012.38,746.72C1015.06,746.49 1020.91,746.17 1025.11,745.94C1029.31,745.71 1035.8,745.28 1040.38,745.16C1044.96,745.04 1051.07,745.1 1055.65,745.16C1060.23,745.22 1066.34,745.32 1070.92,745.55C1075.5,745.78 1081.15,746.43 1086.19,746.72C1091.23,747.01 1101.77,747.38 1104.51,747.5" fill="none" stroke="#9467bd" stroke-width="1.35" stroke-linejoin="round"/>
<path d="M980.06,751.4C980.71,751.28 983.17,750.85 984.39,750.62C985.61,750.39 987.18,750.37 988.21,749.84C989.24,749.31 990.5,747.17 991.26,747.11C992.02,747.05 992.61,749.86 993.3,749.45C993.98,749.04 995.19,744.79 995.84,744.38C996.49,743.97 996.98,747.42 997.62,746.72C998.27,746.02 999.48,740.17 1000.17,739.7C1000.86,739.23 1001.52,742.31 1002.2,743.6C1002.89,744.89 1003.91,747.29 1004.75,748.28C1005.59,749.27 1005.9,749.88 1007.8,750.23C1009.71,750.58 1014.12,750.62 1017.47,750.62C1020.83,750.62 1027.15,750.52 1030.2,750.23C1033.25,749.94 1036,749.25 1037.84,748.67C1039.67,748.08 1041.27,747.32 1042.42,746.33C1043.56,745.34 1044.67,743.09 1045.47,742.04C1046.27,740.99 1047,739.84 1047.76,739.31C1048.52,738.78 1049.68,739.06 1050.56,738.53C1051.44,738 1052.77,736.44 1053.61,735.8C1054.45,735.16 1055.36,734.12 1056.16,734.24C1056.96,734.36 1058.08,735.76 1058.96,736.58C1059.84,737.4 1060.98,738.82 1062.01,739.7C1063.04,740.58 1064.68,741.73 1065.83,742.43C1066.98,743.13 1068.12,743.74 1069.65,744.38C1071.17,745.02 1073.53,746.19 1076.01,746.72C1078.49,747.25 1083.14,747.48 1086.19,747.89C1089.24,748.3 1093.62,749.1 1096.37,749.45C1099.12,749.8 1103.29,750.11 1104.51,750.23" fill="none" stroke="#ff7f0e" stroke-width="1.35" stroke-linejoin="round"/>
<text x="970.5" y="718.5" font-size="13.1">Genome:346.22M; TEs: 28.30M</text>
<rect x="1177.2" y="706" width="12.2" height="48.4" fill="#fff" stroke="#000" stroke-width="1.5"/>
<text x="1181.1" y="729.9" font-size="11.6" text-anchor="middle" font-style="italic" transform="rotate(90 1181.1 729.9)">T. nig</text>
<line x1="968.8" y1="759" x2="968.8" y2="806.5" stroke="#000" stroke-width="1.1" />
<line x1="968.2" y1="806" x2="1177.2" y2="806" stroke="#222" stroke-width="1.05" />
<line x1="966.2" y1="765.4" x2="968.8" y2="765.4" stroke="#333" stroke-width="0.9" />
<text x="963.4" y="769.4" font-size="11.2" text-anchor="end">0.10</text>
<line x1="966.2" y1="782.8" x2="968.8" y2="782.8" stroke="#333" stroke-width="0.9" />
<text x="963.4" y="786.8" font-size="11.2" text-anchor="end">0.05</text>
<line x1="966.2" y1="803.2" x2="968.8" y2="803.2" stroke="#333" stroke-width="0.9" />
<text x="963.4" y="807.2" font-size="11.2" text-anchor="end">0.00</text>
<path d="M980.06,801.35C980.71,800.47 983.17,797.31 984.39,795.5C985.61,793.69 987.14,790.9 988.21,789.26C989.28,787.62 990.68,785.63 991.52,784.58C992.36,783.53 993.12,781.54 993.81,782.24C994.49,782.94 995.52,787.86 996.1,789.26C996.67,790.66 997.09,792.13 997.62,791.6C998.16,791.07 999.05,785.75 999.66,785.75C1000.27,785.75 1001.09,790.02 1001.7,791.6C1002.31,793.18 1002.89,794.99 1003.73,796.28C1004.57,797.57 1006,799.42 1007.29,800.18C1008.59,800.94 1010.09,801.35 1012.38,801.35C1014.68,801.35 1019.13,800.59 1022.56,800.18C1026,799.77 1031.09,798.97 1035.29,798.62C1039.49,798.27 1045.6,797.84 1050.56,797.84C1055.52,797.84 1063.79,798.27 1068.38,798.62C1072.96,798.97 1075.68,799.83 1081.1,800.18C1086.52,800.53 1101,800.84 1104.51,800.96" fill="none" stroke="#d62728" stroke-width="1.35" stroke-linejoin="round"/>
<path d="M980.06,801.35C980.71,800.47 983.17,797.08 984.39,795.5C985.61,793.92 987.14,792.34 988.21,790.82C989.28,789.3 990.6,787.06 991.52,785.36C992.43,783.66 993.55,779.63 994.32,779.51C995.08,779.39 996,783.59 996.61,784.58C997.22,785.57 997.85,786.26 998.39,786.14C998.92,786.02 999.67,783.68 1000.17,783.8C1000.67,783.92 1001.24,786.92 1001.7,786.92C1002.15,786.92 1002.65,783.8 1003.22,783.8C1003.8,783.8 1004.71,785.98 1005.51,786.92C1006.32,787.86 1007.54,789.34 1008.57,790.04C1009.6,790.74 1011.24,790.9 1012.38,791.6C1013.53,792.3 1015.06,793.84 1016.2,794.72C1017.35,795.6 1018.68,796.75 1020.02,797.45C1021.36,798.15 1022.82,798.87 1025.11,799.4C1027.4,799.93 1030.71,800.67 1035.29,800.96C1039.87,801.25 1048.78,801.23 1055.65,801.35C1062.52,801.47 1073.77,801.74 1081.1,801.74C1088.43,801.74 1101,801.41 1104.51,801.35" fill="none" stroke="#1f77b4" stroke-width="1.35" stroke-linejoin="round"/>
<path d="M980.06,793.55C980.52,794.13 982.09,797.74 983.12,797.45C984.15,797.16 985.9,792.95 986.93,791.6C987.97,790.25 989.23,789.12 989.99,788.48C990.75,787.84 991.34,787.13 992.02,787.31C992.71,787.49 993.88,789.59 994.57,789.65C995.26,789.71 996.03,788.58 996.61,787.7C997.18,786.82 997.81,783.8 998.39,783.8C998.96,783.8 999.77,786.53 1000.42,787.7C1001.07,788.87 1001.68,790.43 1002.71,791.6C1003.74,792.77 1005.84,794.45 1007.29,795.5C1008.75,796.55 1010.48,797.92 1012.38,798.62C1014.29,799.32 1017.35,800.06 1020.02,800.18C1022.69,800.3 1024.86,799.4 1030.2,799.4C1035.54,799.4 1049.92,800.24 1055.65,800.18C1061.38,800.12 1065.51,799.54 1068.38,799.01C1071.24,798.48 1073.21,797.2 1074.74,796.67C1076.26,796.14 1077.41,795.21 1078.55,795.5C1079.7,795.79 1081.23,797.98 1082.37,798.62C1083.52,799.26 1084.47,799.56 1086.19,799.79C1087.91,800.02 1091.08,800.24 1093.83,800.18C1096.57,800.12 1102.91,799.52 1104.51,799.4" fill="none" stroke="#2ca02c" stroke-width="1.35" stroke-linejoin="round"/>
<path d="M980.06,802.52C980.71,802.05 982.98,800.45 984.39,799.4C985.8,798.35 988.26,796.44 989.48,795.5C990.7,794.56 991.77,793.75 992.53,793.16C993.3,792.57 993.88,791.25 994.57,791.6C995.26,791.95 996.35,795.79 997.12,795.5C997.88,795.21 998.97,789.65 999.66,789.65C1000.35,789.65 1001.12,793.92 1001.7,795.5C1002.27,797.08 1002.83,799.19 1003.48,800.18C1004.13,801.17 1005.07,802.01 1006.02,802.13C1006.98,802.25 1008.5,801.31 1009.84,800.96C1011.18,800.61 1013.02,800.02 1014.93,799.79C1016.84,799.56 1018.37,799.58 1022.56,799.4C1026.76,799.22 1037.2,798.62 1042.92,798.62C1048.65,798.62 1055.78,799.4 1060.74,799.4C1065.7,799.4 1072.57,798.97 1076.01,798.62C1079.45,798.27 1081.74,797.53 1083.64,797.06C1085.55,796.59 1087.4,795.27 1088.73,795.5C1090.07,795.73 1091.41,797.98 1092.55,798.62C1093.7,799.26 1094.58,799.56 1096.37,799.79C1098.16,800.02 1103.29,800.12 1104.51,800.18" fill="none" stroke="#9467bd" stroke-width="1.35" stroke-linejoin="round"/>
<path d="M980.06,803.3C980.41,803.07 981.71,802.44 982.35,801.74C983,801.04 983.51,800.14 984.39,798.62C985.27,797.1 987.21,793.47 988.21,791.6C989.2,789.73 990.24,787.37 991.01,786.14C991.77,784.91 992.57,783.47 993.3,783.41C994.02,783.35 995.16,784.52 995.84,785.75C996.53,786.98 997.23,791.31 997.88,791.6C998.53,791.89 999.52,787.58 1000.17,787.7C1000.82,787.82 1001.52,790.74 1002.2,792.38C1002.89,794.02 1003.99,797.27 1004.75,798.62C1005.51,799.97 1006.15,800.82 1007.29,801.35C1008.44,801.88 1010.86,802.13 1012.38,802.13C1013.91,802.13 1015.95,801.7 1017.47,801.35C1019,801 1020.66,800.38 1022.56,799.79C1024.47,799.2 1027.91,798.15 1030.2,797.45C1032.49,796.75 1035.54,795.55 1037.84,795.11C1040.13,794.67 1043.18,794.52 1045.47,794.52C1047.76,794.52 1050.81,794.79 1053.11,795.11C1055.4,795.43 1058.45,796.14 1060.74,796.67C1063.03,797.2 1065.32,798.09 1068.38,798.62C1071.43,799.15 1077.28,799.77 1081.1,800.18C1084.92,800.59 1090.31,801.06 1093.83,801.35C1097.34,801.64 1102.91,802.01 1104.51,802.13" fill="none" stroke="#ff7f0e" stroke-width="1.35" stroke-linejoin="round"/>
<text x="970.8" y="771.4" font-size="13.1">Genome:371.79M; TEs: 39.93M</text>
<rect x="1177.2" y="758.2" width="12.2" height="48.4" fill="#fff" stroke="#000" stroke-width="1.5"/>
<text x="1181.1" y="782.1" font-size="11.6" text-anchor="middle" font-style="italic" transform="rotate(90 1181.1 782.1)">T. bol</text>
<line x1="978.9" y1="489.7" x2="978.9" y2="492" stroke="#333" stroke-width="0.9" />
<text x="979.4" y="499.5" font-size="11.2" text-anchor="middle">0</text>
<line x1="1037.3" y1="489.7" x2="1037.3" y2="492" stroke="#333" stroke-width="0.9" />
<text x="1037.8" y="499.5" font-size="11.2" text-anchor="middle">50</text>
<line x1="1095.7" y1="489.7" x2="1095.7" y2="492" stroke="#333" stroke-width="0.9" />
<text x="1096.2" y="499.5" font-size="11.2" text-anchor="middle">100</text>
<line x1="1154.1" y1="489.7" x2="1154.1" y2="492" stroke="#333" stroke-width="0.9" />
<text x="1154.6" y="499.5" font-size="11.2" text-anchor="middle">150</text>
<line x1="979" y1="806" x2="979" y2="808.6" stroke="#333" stroke-width="0.9" />
<text x="979.3" y="819.8" font-size="13.2" text-anchor="middle">0</text>
<line x1="1029.7" y1="806" x2="1029.7" y2="808.6" stroke="#333" stroke-width="0.9" />
<text x="1030" y="819.8" font-size="13.2" text-anchor="middle">20</text>
<line x1="1080.5" y1="806" x2="1080.5" y2="808.6" stroke="#333" stroke-width="0.9" />
<text x="1080.8" y="819.8" font-size="13.2" text-anchor="middle">40</text>
<line x1="1130.6" y1="806" x2="1130.6" y2="808.6" stroke="#333" stroke-width="0.9" />
<text x="1130.9" y="819.8" font-size="13.2" text-anchor="middle">60</text>
<text x="1082.5" y="832.5" font-size="13.1" text-anchor="middle">Active time (Mya)</text>
<line x1="1200.2" y1="450.3" x2="1209.9" y2="450.3" stroke="#d62728" stroke-width="1.15" />
<text x="1213.5" y="454.7" font-size="13.1">DNA</text>
<line x1="1200.2" y1="465.7" x2="1209.9" y2="465.7" stroke="#1f77b4" stroke-width="1.15" />
<text x="1213.5" y="470.1" font-size="13.1">LINEs</text>
<line x1="1200.2" y1="481.1" x2="1209.9" y2="481.1" stroke="#2ca02c" stroke-width="1.15" />
<text x="1213.5" y="485.5" font-size="13.1">LTRs</text>
<line x1="1200.2" y1="496.5" x2="1209.9" y2="496.5" stroke="#ff7f0e" stroke-width="1.15" />
<text x="1213.5" y="500.9" font-size="13.1">SINEs</text>
<line x1="1200.2" y1="511.9" x2="1209.9" y2="511.9" stroke="#9467bd" stroke-width="1.15" />
<text x="1213.5" y="516.3" font-size="13.1">RC</text>
</g>
<g>
<text x="28" y="846.5" font-size="21.5" font-weight="bold">h</text>
<text x="37.9" y="861.6" font-size="12.9">Group</text>
<rect x="80" y="851.3" width="11.6" height="11.6" fill="#e8701a"/>
<text x="93.9" y="862.9" font-size="13.2">Mammals</text>
<rect x="155.7" y="851.3" width="11.6" height="11.6" fill="#b71c24"/>
<text x="169.6" y="862.9" font-size="13.2">Birds</text>
<rect x="203.9" y="851.3" width="11.6" height="11.6" fill="#1f8a9e"/>
<text x="218.3" y="862.9" font-size="13.2">Reptiles</text>
<rect x="270" y="851.3" width="11.6" height="11.6" fill="#7e3f98"/>
<text x="284.4" y="862.9" font-size="13.2">Other fish</text>
<rect x="346.2" y="851.3" width="11.6" height="11.6" fill="#55929a"/>
<text x="360.4" y="862.9" font-size="13.2">Other Tetraodontiformes</text>
<rect x="508.3" y="851.3" width="11.6" height="11.6" fill="#ef6548"/>
<text x="523.9" y="862.9" font-size="13.2" font-style="italic">Takifugu</text>
<defs><linearGradient id="cb" x1="0" y1="0" x2="0" y2="1"><stop offset="0" stop-color="#d9534f"/><stop offset="0.15" stop-color="#df7878"/><stop offset="0.26" stop-color="#e59494"/><stop offset="0.39" stop-color="#edb3b3"/><stop offset="0.52" stop-color="#f3cccc"/><stop offset="0.64" stop-color="#f7dfdf"/><stop offset="0.75" stop-color="#faecec"/><stop offset="0.9" stop-color="#faf5f4"/><stop offset="1" stop-color="#fbfaf9"/></linearGradient></defs>
<rect x="39.1" y="878" width="7.8" height="108.6" fill="url(#cb)"/>
<text x="50.5" y="892.1" font-size="13">15</text>
<text x="50.5" y="925.5" font-size="13">10</text>
<text x="50.5" y="958.5" font-size="13">5</text>
<text x="50.5" y="991.9" font-size="13">0</text>
<rect x="112" y="878" width="43.26" height="8.2" fill="#e8701a"/>
<rect x="155.26" y="878" width="43.26" height="8.2" fill="#b71c24"/>
<rect x="198.52" y="878" width="43.26" height="8.2" fill="#1f8a9e"/>
<rect x="241.78" y="878" width="43.26" height="8.2" fill="#7e3f98"/>
<rect x="285.04" y="878" width="86.52" height="8.2" fill="#55929a"/>
<rect x="371.56" y="878" width="194.67" height="8.2" fill="#ef6548"/>
<rect x="112" y="893.9" width="21.63" height="19.31" fill="#edbcbc" stroke="#fff" stroke-width="0.45"/>
<rect x="133.63" y="893.9" width="21.63" height="19.31" fill="#faefee" stroke="#fff" stroke-width="0.45"/>
<rect x="155.26" y="893.9" width="21.63" height="19.31" fill="#faf9f8" stroke="#fff" stroke-width="0.45"/>
<rect x="176.89" y="893.9" width="21.63" height="19.31" fill="#ffffff" stroke="#fff" stroke-width="0.45"/>
<rect x="198.52" y="893.9" width="21.63" height="19.31" fill="#f0d8d9" stroke="#fff" stroke-width="0.45"/>
<rect x="220.15" y="893.9" width="21.63" height="19.31" fill="#f5e6e6" stroke="#fff" stroke-width="0.45"/>
<rect x="241.78" y="893.9" width="21.63" height="19.31" fill="#faf9f8" stroke="#fff" stroke-width="0.45"/>
<rect x="263.41" y="893.9" width="21.63" height="19.31" fill="#ffffff" stroke="#fff" stroke-width="0.45"/>
<rect x="285.04" y="893.9" width="21.63" height="19.31" fill="#ffffff" stroke="#fff" stroke-width="0.45"/>
<rect x="306.67" y="893.9" width="21.63" height="19.31" fill="#ffffff" stroke="#fff" stroke-width="0.45"/>
<rect x="328.3" y="893.9" width="21.63" height="19.31" fill="#faeeed" stroke="#fff" stroke-width="0.45"/>
<rect x="349.93" y="893.9" width="21.63" height="19.31" fill="#faf0f0" stroke="#fff" stroke-width="0.45"/>
<rect x="371.56" y="893.9" width="21.63" height="19.31" fill="#f2dedf" stroke="#fff" stroke-width="0.45"/>
<rect x="393.19" y="893.9" width="21.63" height="19.31" fill="#f2dedf" stroke="#fff" stroke-width="0.45"/>
<rect x="414.82" y="893.9" width="21.63" height="19.31" fill="#f2dedf" stroke="#fff" stroke-width="0.45"/>
<rect x="436.45" y="893.9" width="21.63" height="19.31" fill="#f2dedf" stroke="#fff" stroke-width="0.45"/>
<rect x="458.08" y="893.9" width="21.63" height="19.31" fill="#f2dedf" stroke="#fff" stroke-width="0.45"/>
<rect x="479.71" y="893.9" width="21.63" height="19.31" fill="#f2dedf" stroke="#fff" stroke-width="0.45"/>
<rect x="501.34" y="893.9" width="21.63" height="19.31" fill="#f2dedf" stroke="#fff" stroke-width="0.45"/>
<rect x="522.97" y="893.9" width="21.63" height="19.31" fill="#f2dedf" stroke="#fff" stroke-width="0.45"/>
<rect x="544.6" y="893.9" width="21.63" height="19.31" fill="#f2dedf" stroke="#fff" stroke-width="0.45"/>
<rect x="112" y="913.21" width="21.63" height="19.31" fill="#faf9f8" stroke="#fff" stroke-width="0.45"/>
<rect x="133.63" y="913.21" width="21.63" height="19.31" fill="#faf0ef" stroke="#fff" stroke-width="0.45"/>
<rect x="155.26" y="913.21" width="21.63" height="19.31" fill="#faefef" stroke="#fff" stroke-width="0.45"/>
<rect x="176.89" y="913.21" width="21.63" height="19.31" fill="#f7ecec" stroke="#fff" stroke-width="0.45"/>
<rect x="198.52" y="913.21" width="21.63" height="19.31" fill="#e6abab" stroke="#fff" stroke-width="0.45"/>
<rect x="220.15" y="913.21" width="21.63" height="19.31" fill="#edcccc" stroke="#fff" stroke-width="0.45"/>
<rect x="241.78" y="913.21" width="21.63" height="19.31" fill="#ffffff" stroke="#fff" stroke-width="0.45"/>
<rect x="263.41" y="913.21" width="21.63" height="19.31" fill="#f5e3e3" stroke="#fff" stroke-width="0.45"/>
<rect x="285.04" y="913.21" width="21.63" height="19.31" fill="#f5e4e4" stroke="#fff" stroke-width="0.45"/>
<rect x="306.67" y="913.21" width="21.63" height="19.31" fill="#f5e4e4" stroke="#fff" stroke-width="0.45"/>
<rect x="328.3" y="913.21" width="21.63" height="19.31" fill="#f2dcdd" stroke="#fff" stroke-width="0.45"/>
<rect x="349.93" y="913.21" width="21.63" height="19.31" fill="#ffffff" stroke="#fff" stroke-width="0.45"/>
<rect x="371.56" y="913.21" width="21.63" height="19.31" fill="#f4e1e2" stroke="#fff" stroke-width="0.45"/>
<rect x="393.19" y="913.21" width="21.63" height="19.31" fill="#f4e1e2" stroke="#fff" stroke-width="0.45"/>
<rect x="414.82" y="913.21" width="21.63" height="19.31" fill="#f4e1e2" stroke="#fff" stroke-width="0.45"/>
<rect x="436.45" y="913.21" width="21.63" height="19.31" fill="#f4e1e2" stroke="#fff" stroke-width="0.45"/>
<rect x="458.08" y="913.21" width="21.63" height="19.31" fill="#f4e1e2" stroke="#fff" stroke-width="0.45"/>
<rect x="479.71" y="913.21" width="21.63" height="19.31" fill="#f4e1e2" stroke="#fff" stroke-width="0.45"/>
<rect x="501.34" y="913.21" width="21.63" height="19.31" fill="#f4e1e2" stroke="#fff" stroke-width="0.45"/>
<rect x="522.97" y="913.21" width="21.63" height="19.31" fill="#f4e1e2" stroke="#fff" stroke-width="0.45"/>
<rect x="544.6" y="913.21" width="21.63" height="19.31" fill="#f4e1e2" stroke="#fff" stroke-width="0.45"/>
<rect x="112" y="932.52" width="21.63" height="19.31" fill="#f8edec" stroke="#fff" stroke-width="0.45"/>
<rect x="133.63" y="932.52" width="21.63" height="19.31" fill="#faf0ef" stroke="#fff" stroke-width="0.45"/>
<rect x="155.26" y="932.52" width="21.63" height="19.31" fill="#faf5f4" stroke="#fff" stroke-width="0.45"/>
<rect x="176.89" y="932.52" width="21.63" height="19.31" fill="#faf8f7" stroke="#fff" stroke-width="0.45"/>
<rect x="198.52" y="932.52" width="21.63" height="19.31" fill="#f2dede" stroke="#fff" stroke-width="0.45"/>
<rect x="220.15" y="932.52" width="21.63" height="19.31" fill="#ecc5c6" stroke="#fff" stroke-width="0.45"/>
<rect x="241.78" y="932.52" width="21.63" height="19.31" fill="#ffffff" stroke="#fff" stroke-width="0.45"/>
<rect x="263.41" y="932.52" width="21.63" height="19.31" fill="#f5e1e1" stroke="#fff" stroke-width="0.45"/>
<rect x="285.04" y="932.52" width="21.63" height="19.31" fill="#f0d5d6" stroke="#fff" stroke-width="0.45"/>
<rect x="306.67" y="932.52" width="21.63" height="19.31" fill="#ffffff" stroke="#fff" stroke-width="0.45"/>
<rect x="328.3" y="932.52" width="21.63" height="19.31" fill="#ecc3c3" stroke="#fff" stroke-width="0.45"/>
<rect x="349.93" y="932.52" width="21.63" height="19.31" fill="#f5e4e4" stroke="#fff" stroke-width="0.45"/>
<rect x="371.56" y="932.52" width="21.63" height="19.31" fill="#f3e0e1" stroke="#fff" stroke-width="0.45"/>
<rect x="393.19" y="932.52" width="21.63" height="19.31" fill="#f3e0e1" stroke="#fff" stroke-width="0.45"/>
<rect x="414.82" y="932.52" width="21.63" height="19.31" fill="#f3e0e1" stroke="#fff" stroke-width="0.45"/>
<rect x="436.45" y="932.52" width="21.63" height="19.31" fill="#f3e0e1" stroke="#fff" stroke-width="0.45"/>
<rect x="458.08" y="932.52" width="21.63" height="19.31" fill="#f3e0e1" stroke="#fff" stroke-width="0.45"/>
<rect x="479.71" y="932.52" width="21.63" height="19.31" fill="#f3e0e1" stroke="#fff" stroke-width="0.45"/>
<rect x="501.34" y="932.52" width="21.63" height="19.31" fill="#f3e0e1" stroke="#fff" stroke-width="0.45"/>
<rect x="522.97" y="932.52" width="21.63" height="19.31" fill="#f3e0e1" stroke="#fff" stroke-width="0.45"/>
<rect x="544.6" y="932.52" width="21.63" height="19.31" fill="#f3e0e1" stroke="#fff" stroke-width="0.45"/>
<rect x="112" y="951.83" width="21.63" height="19.31" fill="#f5e6e6" stroke="#fff" stroke-width="0.45"/>
<rect x="133.63" y="951.83" width="21.63" height="19.31" fill="#f2dfdf" stroke="#fff" stroke-width="0.45"/>
<rect x="155.26" y="951.83" width="21.63" height="19.31" fill="#f6e6e6" stroke="#fff" stroke-width="0.45"/>
<rect x="176.89" y="951.83" width="21.63" height="19.31" fill="#f6e8e8" stroke="#fff" stroke-width="0.45"/>
<rect x="198.52" y="951.83" width="21.63" height="19.31" fill="#e6abab" stroke="#fff" stroke-width="0.45"/>
<rect x="220.15" y="951.83" width="21.63" height="19.31" fill="#f2dfdf" stroke="#fff" stroke-width="0.45"/>
<rect x="241.78" y="951.83" width="21.63" height="19.31" fill="#ffffff" stroke="#fff" stroke-width="0.45"/>
<rect x="263.41" y="951.83" width="21.63" height="19.31" fill="#faf0f0" stroke="#fff" stroke-width="0.45"/>
<rect x="285.04" y="951.83" width="21.63" height="19.31" fill="#f5e5e5" stroke="#fff" stroke-width="0.45"/>
<rect x="306.67" y="951.83" width="21.63" height="19.31" fill="#faf9f7" stroke="#fff" stroke-width="0.45"/>
<rect x="328.3" y="951.83" width="21.63" height="19.31" fill="#f0d3d4" stroke="#fff" stroke-width="0.45"/>
<rect x="349.93" y="951.83" width="21.63" height="19.31" fill="#f8eeed" stroke="#fff" stroke-width="0.45"/>
<rect x="371.56" y="951.83" width="21.63" height="19.31" fill="#f8eeed" stroke="#fff" stroke-width="0.45"/>
<rect x="393.19" y="951.83" width="21.63" height="19.31" fill="#f8eeed" stroke="#fff" stroke-width="0.45"/>
<rect x="414.82" y="951.83" width="21.63" height="19.31" fill="#f8eeed" stroke="#fff" stroke-width="0.45"/>
<rect x="436.45" y="951.83" width="21.63" height="19.31" fill="#f8eeed" stroke="#fff" stroke-width="0.45"/>
<rect x="458.08" y="951.83" width="21.63" height="19.31" fill="#f8eeed" stroke="#fff" stroke-width="0.45"/>
<rect x="479.71" y="951.83" width="21.63" height="19.31" fill="#f8eeed" stroke="#fff" stroke-width="0.45"/>
<rect x="501.34" y="951.83" width="21.63" height="19.31" fill="#f8eeed" stroke="#fff" stroke-width="0.45"/>
<rect x="522.97" y="951.83" width="21.63" height="19.31" fill="#f8eeed" stroke="#fff" stroke-width="0.45"/>
<rect x="544.6" y="951.83" width="21.63" height="19.31" fill="#f8eeed" stroke="#fff" stroke-width="0.45"/>
<rect x="112" y="971.14" width="21.63" height="19.31" fill="#f5e6e6" stroke="#fff" stroke-width="0.45"/>
<rect x="133.63" y="971.14" width="21.63" height="19.31" fill="#f7eaea" stroke="#fff" stroke-width="0.45"/>
<rect x="155.26" y="971.14" width="21.63" height="19.31" fill="#faf1f1" stroke="#fff" stroke-width="0.45"/>
<rect x="176.89" y="971.14" width="21.63" height="19.31" fill="#faf0ef" stroke="#fff" stroke-width="0.45"/>
<rect x="198.52" y="971.14" width="21.63" height="19.31" fill="#e6abab" stroke="#fff" stroke-width="0.45"/>
<rect x="220.15" y="971.14" width="21.63" height="19.31" fill="#edcccc" stroke="#fff" stroke-width="0.45"/>
<rect x="241.78" y="971.14" width="21.63" height="19.31" fill="#edcbcb" stroke="#fff" stroke-width="0.45"/>
<rect x="263.41" y="971.14" width="21.63" height="19.31" fill="#f7e8e7" stroke="#fff" stroke-width="0.45"/>
<rect x="285.04" y="971.14" width="21.63" height="19.31" fill="#ecc6c6" stroke="#fff" stroke-width="0.45"/>
<rect x="306.67" y="971.14" width="21.63" height="19.31" fill="#f6e8e8" stroke="#fff" stroke-width="0.45"/>
<rect x="328.3" y="971.14" width="21.63" height="19.31" fill="#f0d3d5" stroke="#fff" stroke-width="0.45"/>
<rect x="349.93" y="971.14" width="21.63" height="19.31" fill="#f2dcdd" stroke="#fff" stroke-width="0.45"/>
<rect x="371.56" y="971.14" width="21.63" height="19.31" fill="#f1dbdc" stroke="#fff" stroke-width="0.45"/>
<rect x="393.19" y="971.14" width="21.63" height="19.31" fill="#f1dbdc" stroke="#fff" stroke-width="0.45"/>
<rect x="414.82" y="971.14" width="21.63" height="19.31" fill="#f1dbdc" stroke="#fff" stroke-width="0.45"/>
<rect x="436.45" y="971.14" width="21.63" height="19.31" fill="#f1dbdc" stroke="#fff" stroke-width="0.45"/>
<rect x="458.08" y="971.14" width="21.63" height="19.31" fill="#f1dbdc" stroke="#fff" stroke-width="0.45"/>
<rect x="479.71" y="971.14" width="21.63" height="19.31" fill="#efd3d5" stroke="#fff" stroke-width="0.45"/>
<rect x="501.34" y="971.14" width="21.63" height="19.31" fill="#efd3d5" stroke="#fff" stroke-width="0.45"/>
<rect x="522.97" y="971.14" width="21.63" height="19.31" fill="#efd3d5" stroke="#fff" stroke-width="0.45"/>
<rect x="544.6" y="971.14" width="21.63" height="19.31" fill="#efd3d5" stroke="#fff" stroke-width="0.45"/>
<rect x="112" y="990.45" width="21.63" height="19.31" fill="#f5e6e6" stroke="#fff" stroke-width="0.45"/>
<rect x="133.63" y="990.45" width="21.63" height="19.31" fill="#faf1f0" stroke="#fff" stroke-width="0.45"/>
<rect x="155.26" y="990.45" width="21.63" height="19.31" fill="#faf2f2" stroke="#fff" stroke-width="0.45"/>
<rect x="176.89" y="990.45" width="21.63" height="19.31" fill="#faf4f3" stroke="#fff" stroke-width="0.45"/>
<rect x="198.52" y="990.45" width="21.63" height="19.31" fill="#f8eeed" stroke="#fff" stroke-width="0.45"/>
<rect x="220.15" y="990.45" width="21.63" height="19.31" fill="#df8585" stroke="#fff" stroke-width="0.45"/>
<rect x="241.78" y="990.45" width="21.63" height="19.31" fill="#df8686" stroke="#fff" stroke-width="0.45"/>
<rect x="263.41" y="990.45" width="21.63" height="19.31" fill="#e6a3a3" stroke="#fff" stroke-width="0.45"/>
<rect x="285.04" y="990.45" width="21.63" height="19.31" fill="#e5a09e" stroke="#fff" stroke-width="0.45"/>
<rect x="306.67" y="990.45" width="21.63" height="19.31" fill="#f3e0e0" stroke="#fff" stroke-width="0.45"/>
<rect x="328.3" y="990.45" width="21.63" height="19.31" fill="#e09495" stroke="#fff" stroke-width="0.45"/>
<rect x="349.93" y="990.45" width="21.63" height="19.31" fill="#f1d9da" stroke="#fff" stroke-width="0.45"/>
<rect x="371.56" y="990.45" width="21.63" height="19.31" fill="#f1dbdc" stroke="#fff" stroke-width="0.45"/>
<rect x="393.19" y="990.45" width="21.63" height="19.31" fill="#f1dbdc" stroke="#fff" stroke-width="0.45"/>
<rect x="414.82" y="990.45" width="21.63" height="19.31" fill="#f1dbdc" stroke="#fff" stroke-width="0.45"/>
<rect x="436.45" y="990.45" width="21.63" height="19.31" fill="#f1dbdc" stroke="#fff" stroke-width="0.45"/>
<rect x="458.08" y="990.45" width="21.63" height="19.31" fill="#f1dbdc" stroke="#fff" stroke-width="0.45"/>
<rect x="479.71" y="990.45" width="21.63" height="19.31" fill="#f1dbdc" stroke="#fff" stroke-width="0.45"/>
<rect x="501.34" y="990.45" width="21.63" height="19.31" fill="#f1dbdc" stroke="#fff" stroke-width="0.45"/>
<rect x="522.97" y="990.45" width="21.63" height="19.31" fill="#f1dbdc" stroke="#fff" stroke-width="0.45"/>
<rect x="544.6" y="990.45" width="21.63" height="19.31" fill="#f1dbdc" stroke="#fff" stroke-width="0.45"/>
<rect x="112" y="1009.76" width="21.63" height="19.31" fill="#d9605b" stroke="#fff" stroke-width="0.45"/>
<rect x="133.63" y="1009.76" width="21.63" height="19.31" fill="#d9625e" stroke="#fff" stroke-width="0.45"/>
<rect x="155.26" y="1009.76" width="21.63" height="19.31" fill="#dd7a76" stroke="#fff" stroke-width="0.45"/>
<rect x="176.89" y="1009.76" width="21.63" height="19.31" fill="#e18e90" stroke="#fff" stroke-width="0.45"/>
<rect x="198.52" y="1009.76" width="21.63" height="19.31" fill="#d5504a" stroke="#fff" stroke-width="0.45"/>
<rect x="220.15" y="1009.76" width="21.63" height="19.31" fill="#db706e" stroke="#fff" stroke-width="0.45"/>
<rect x="241.78" y="1009.76" width="21.63" height="19.31" fill="#df8582" stroke="#fff" stroke-width="0.45"/>
<rect x="263.41" y="1009.76" width="21.63" height="19.31" fill="#e08d90" stroke="#fff" stroke-width="0.45"/>
<rect x="285.04" y="1009.76" width="21.63" height="19.31" fill="#dd7a76" stroke="#fff" stroke-width="0.45"/>
<rect x="306.67" y="1009.76" width="21.63" height="19.31" fill="#e6a8a8" stroke="#fff" stroke-width="0.45"/>
<rect x="328.3" y="1009.76" width="21.63" height="19.31" fill="#d9706d" stroke="#fff" stroke-width="0.45"/>
<rect x="349.93" y="1009.76" width="21.63" height="19.31" fill="#e39a99" stroke="#fff" stroke-width="0.45"/>
<rect x="371.56" y="1009.76" width="21.63" height="19.31" fill="#e08e90" stroke="#fff" stroke-width="0.45"/>
<rect x="393.19" y="1009.76" width="21.63" height="19.31" fill="#e08e90" stroke="#fff" stroke-width="0.45"/>
<rect x="414.82" y="1009.76" width="21.63" height="19.31" fill="#e08e90" stroke="#fff" stroke-width="0.45"/>
<rect x="436.45" y="1009.76" width="21.63" height="19.31" fill="#e08e90" stroke="#fff" stroke-width="0.45"/>
<rect x="458.08" y="1009.76" width="21.63" height="19.31" fill="#e08e90" stroke="#fff" stroke-width="0.45"/>
<rect x="479.71" y="1009.76" width="21.63" height="19.31" fill="#e08e90" stroke="#fff" stroke-width="0.45"/>
<rect x="501.34" y="1009.76" width="21.63" height="19.31" fill="#e08e90" stroke="#fff" stroke-width="0.45"/>
<rect x="522.97" y="1009.76" width="21.63" height="19.31" fill="#e08e90" stroke="#fff" stroke-width="0.45"/>
<rect x="544.6" y="1009.76" width="21.63" height="19.31" fill="#e08e90" stroke="#fff" stroke-width="0.45"/>
<rect x="112" y="1029.07" width="21.63" height="19.31" fill="#e6a8a8" stroke="#fff" stroke-width="0.45"/>
<rect x="133.63" y="1029.07" width="21.63" height="19.31" fill="#df8585" stroke="#fff" stroke-width="0.45"/>
<rect x="155.26" y="1029.07" width="21.63" height="19.31" fill="#ecb8b9" stroke="#fff" stroke-width="0.45"/>
<rect x="176.89" y="1029.07" width="21.63" height="19.31" fill="#e6a8a8" stroke="#fff" stroke-width="0.45"/>
<rect x="198.52" y="1029.07" width="21.63" height="19.31" fill="#e49d9e" stroke="#fff" stroke-width="0.45"/>
<rect x="220.15" y="1029.07" width="21.63" height="19.31" fill="#ebb9ba" stroke="#fff" stroke-width="0.45"/>
<rect x="241.78" y="1029.07" width="21.63" height="19.31" fill="#f2dcdc" stroke="#fff" stroke-width="0.45"/>
<rect x="263.41" y="1029.07" width="21.63" height="19.31" fill="#f1d2d4" stroke="#fff" stroke-width="0.45"/>
<rect x="285.04" y="1029.07" width="21.63" height="19.31" fill="#ecc6c6" stroke="#fff" stroke-width="0.45"/>
<rect x="306.67" y="1029.07" width="21.63" height="19.31" fill="#f2dede" stroke="#fff" stroke-width="0.45"/>
<rect x="328.3" y="1029.07" width="21.63" height="19.31" fill="#e7adae" stroke="#fff" stroke-width="0.45"/>
<rect x="349.93" y="1029.07" width="21.63" height="19.31" fill="#f2dcdd" stroke="#fff" stroke-width="0.45"/>
<rect x="371.56" y="1029.07" width="21.63" height="19.31" fill="#eecbcc" stroke="#fff" stroke-width="0.45"/>
<rect x="393.19" y="1029.07" width="21.63" height="19.31" fill="#f0d8d9" stroke="#fff" stroke-width="0.45"/>
<rect x="414.82" y="1029.07" width="21.63" height="19.31" fill="#f0d8d9" stroke="#fff" stroke-width="0.45"/>
<rect x="436.45" y="1029.07" width="21.63" height="19.31" fill="#efd3d5" stroke="#fff" stroke-width="0.45"/>
<rect x="458.08" y="1029.07" width="21.63" height="19.31" fill="#ecccce" stroke="#fff" stroke-width="0.45"/>
<rect x="479.71" y="1029.07" width="21.63" height="19.31" fill="#eccacb" stroke="#fff" stroke-width="0.45"/>
<rect x="501.34" y="1029.07" width="21.63" height="19.31" fill="#eccacb" stroke="#fff" stroke-width="0.45"/>
<rect x="522.97" y="1029.07" width="21.63" height="19.31" fill="#eccacb" stroke="#fff" stroke-width="0.45"/>
<rect x="544.6" y="1029.07" width="21.63" height="19.31" fill="#efd3d5" stroke="#fff" stroke-width="0.45"/>
<rect x="112" y="1048.38" width="21.63" height="19.31" fill="#e6a8a8" stroke="#fff" stroke-width="0.45"/>
<rect x="133.63" y="1048.38" width="21.63" height="19.31" fill="#e18e90" stroke="#fff" stroke-width="0.45"/>
<rect x="155.26" y="1048.38" width="21.63" height="19.31" fill="#edc1c2" stroke="#fff" stroke-width="0.45"/>
<rect x="176.89" y="1048.38" width="21.63" height="19.31" fill="#e6a8a8" stroke="#fff" stroke-width="0.45"/>
<rect x="198.52" y="1048.38" width="21.63" height="19.31" fill="#e6abab" stroke="#fff" stroke-width="0.45"/>
<rect x="220.15" y="1048.38" width="21.63" height="19.31" fill="#f5e4e4" stroke="#fff" stroke-width="0.45"/>
<rect x="241.78" y="1048.38" width="21.63" height="19.31" fill="#fdfcfb" stroke="#fff" stroke-width="0.45"/>
<rect x="263.41" y="1048.38" width="21.63" height="19.31" fill="#f5e3e3" stroke="#fff" stroke-width="0.45"/>
<rect x="285.04" y="1048.38" width="21.63" height="19.31" fill="#f5e3e3" stroke="#fff" stroke-width="0.45"/>
<rect x="306.67" y="1048.38" width="21.63" height="19.31" fill="#faf0f0" stroke="#fff" stroke-width="0.45"/>
<rect x="328.3" y="1048.38" width="21.63" height="19.31" fill="#f2dcdd" stroke="#fff" stroke-width="0.45"/>
<rect x="349.93" y="1048.38" width="21.63" height="19.31" fill="#f2ddde" stroke="#fff" stroke-width="0.45"/>
<rect x="371.56" y="1048.38" width="21.63" height="19.31" fill="#f2ddde" stroke="#fff" stroke-width="0.45"/>
<rect x="393.19" y="1048.38" width="21.63" height="19.31" fill="#f2ddde" stroke="#fff" stroke-width="0.45"/>
<rect x="414.82" y="1048.38" width="21.63" height="19.31" fill="#f2ddde" stroke="#fff" stroke-width="0.45"/>
<rect x="436.45" y="1048.38" width="21.63" height="19.31" fill="#f2ddde" stroke="#fff" stroke-width="0.45"/>
<rect x="458.08" y="1048.38" width="21.63" height="19.31" fill="#f2ddde" stroke="#fff" stroke-width="0.45"/>
<rect x="479.71" y="1048.38" width="21.63" height="19.31" fill="#f2ddde" stroke="#fff" stroke-width="0.45"/>
<rect x="501.34" y="1048.38" width="21.63" height="19.31" fill="#f2ddde" stroke="#fff" stroke-width="0.45"/>
<rect x="522.97" y="1048.38" width="21.63" height="19.31" fill="#f2ddde" stroke="#fff" stroke-width="0.45"/>
<rect x="544.6" y="1048.38" width="21.63" height="19.31" fill="#f2ddde" stroke="#fff" stroke-width="0.45"/>
<rect x="112" y="1067.69" width="21.63" height="19.31" fill="#df8585" stroke="#fff" stroke-width="0.45"/>
<rect x="133.63" y="1067.69" width="21.63" height="19.31" fill="#dd7d79" stroke="#fff" stroke-width="0.45"/>
<rect x="155.26" y="1067.69" width="21.63" height="19.31" fill="#edc0c1" stroke="#fff" stroke-width="0.45"/>
<rect x="176.89" y="1067.69" width="21.63" height="19.31" fill="#f2dcdc" stroke="#fff" stroke-width="0.45"/>
<rect x="198.52" y="1067.69" width="21.63" height="19.31" fill="#db706e" stroke="#fff" stroke-width="0.45"/>
<rect x="220.15" y="1067.69" width="21.63" height="19.31" fill="#e5a09f" stroke="#fff" stroke-width="0.45"/>
<rect x="241.78" y="1067.69" width="21.63" height="19.31" fill="#f8ecec" stroke="#fff" stroke-width="0.45"/>
<rect x="263.41" y="1067.69" width="21.63" height="19.31" fill="#f6e8e8" stroke="#fff" stroke-width="0.45"/>
<rect x="285.04" y="1067.69" width="21.63" height="19.31" fill="#f7e9e9" stroke="#fff" stroke-width="0.45"/>
<rect x="306.67" y="1067.69" width="21.63" height="19.31" fill="#fdfcfb" stroke="#fff" stroke-width="0.45"/>
<rect x="328.3" y="1067.69" width="21.63" height="19.31" fill="#edc3c5" stroke="#fff" stroke-width="0.45"/>
<rect x="349.93" y="1067.69" width="21.63" height="19.31" fill="#f7e9e9" stroke="#fff" stroke-width="0.45"/>
<rect x="371.56" y="1067.69" width="21.63" height="19.31" fill="#f5e3e4" stroke="#fff" stroke-width="0.45"/>
<rect x="393.19" y="1067.69" width="21.63" height="19.31" fill="#f5e3e4" stroke="#fff" stroke-width="0.45"/>
<rect x="414.82" y="1067.69" width="21.63" height="19.31" fill="#f5e3e4" stroke="#fff" stroke-width="0.45"/>
<rect x="436.45" y="1067.69" width="21.63" height="19.31" fill="#f5e3e4" stroke="#fff" stroke-width="0.45"/>
<rect x="458.08" y="1067.69" width="21.63" height="19.31" fill="#f5e3e4" stroke="#fff" stroke-width="0.45"/>
<rect x="479.71" y="1067.69" width="21.63" height="19.31" fill="#f5e3e4" stroke="#fff" stroke-width="0.45"/>
<rect x="501.34" y="1067.69" width="21.63" height="19.31" fill="#f5e3e4" stroke="#fff" stroke-width="0.45"/>
<rect x="522.97" y="1067.69" width="21.63" height="19.31" fill="#f5e3e4" stroke="#fff" stroke-width="0.45"/>
<rect x="544.6" y="1067.69" width="21.63" height="19.31" fill="#f5e3e4" stroke="#fff" stroke-width="0.45"/>
<line x1="73.19" y1="920.44" x2="92.62" y2="920.44" stroke="#333" stroke-width="0.9" />
<line x1="73.19" y1="920.44" x2="73.19" y2="1019.62" stroke="#c8c8c8" stroke-width="0.9" />
<line x1="92.62" y1="903.53" x2="92.62" y2="937.35" stroke="#333" stroke-width="0.9" />
<line x1="92.62" y1="903.53" x2="112.05" y2="903.53" stroke="#333" stroke-width="0.9" />
<line x1="92.62" y1="937.35" x2="99.68" y2="937.35" stroke="#333" stroke-width="0.9" />
<line x1="99.68" y1="922.97" x2="99.68" y2="951.48" stroke="#c8c8c8" stroke-width="0.9" />
<line x1="99.68" y1="922.97" x2="112.05" y2="922.97" stroke="#e8e8e8" stroke-width="0.9" />
<line x1="99.68" y1="951.48" x2="103.47" y2="951.48" stroke="#c8c8c8" stroke-width="0.9" />
<line x1="103.47" y1="942.4" x2="103.47" y2="961.58" stroke="#333" stroke-width="0.9" />
<line x1="103.47" y1="942.4" x2="112.05" y2="942.4" stroke="#666" stroke-width="0.9" />
<line x1="103.47" y1="961.58" x2="112.05" y2="961.58" stroke="#333" stroke-width="0.9" />
<line x1="73.19" y1="1019.62" x2="82.27" y2="1019.62" stroke="#333" stroke-width="0.9" />
<line x1="82.27" y1="990.85" x2="82.27" y2="1048.64" stroke="#777" stroke-width="0.9" />
<line x1="82.27" y1="990.85" x2="95.39" y2="990.85" stroke="#777" stroke-width="0.9" />
<line x1="95.39" y1="981.01" x2="95.39" y2="1000.44" stroke="#333" stroke-width="0.9" />
<line x1="95.39" y1="1000.44" x2="112.05" y2="1000.44" stroke="#666" stroke-width="0.9" />
<line x1="82.27" y1="1048.64" x2="86.06" y2="1048.64" stroke="#333" stroke-width="0.9" />
<line x1="86.06" y1="1029.21" x2="86.06" y2="1068.58" stroke="#e0e0e0" stroke-width="0.9" />
<line x1="86.06" y1="1029.21" x2="101.45" y2="1029.21" stroke="#666" stroke-width="0.9" />
<line x1="101.45" y1="1019.62" x2="101.45" y2="1038.8" stroke="#666" stroke-width="0.9" />
<line x1="101.45" y1="1019.62" x2="112.05" y2="1019.62" stroke="#333" stroke-width="0.9" />
<line x1="86.06" y1="1068.58" x2="99.18" y2="1068.58" stroke="#c8c8c8" stroke-width="0.9" />
<line x1="99.18" y1="1058.23" x2="99.18" y2="1077.41" stroke="#333" stroke-width="0.9" />
<line x1="99.18" y1="1058.23" x2="112.05" y2="1058.23" stroke="#333" stroke-width="0.9" />
<line x1="99.18" y1="1077.41" x2="112.05" y2="1077.41" stroke="#666" stroke-width="0.9" />
<text x="568.1" y="905.7" font-size="13.2">Tc5 transposase DNA-binding domain</text>
<text x="568.1" y="924.2" font-size="13.2">DDE superfamily endonuclease (DDE_Tnp_4)</text>
<text x="568.1" y="945.9" font-size="13.2">Retrotransposon gag protein</text>
<text x="568.1" y="965.7" font-size="13.2">Myb/SANT-like DNA-binding domain</text>
<text x="568.1" y="987" font-size="13.2">hAT family C-terminal dimerization region</text>
<text x="568.1" y="1006.7" font-size="13.2">DDE superfamily endonuclease (DDE_3)</text>
<text x="568.1" y="1019" font-size="13.2">Reverse transcriptase</text>
<text x="568.1" y="1031.2" font-size="13.2">(RNA-dependent DNA polymerase)</text>
<text x="568.1" y="1046.9" font-size="13.2">Integrase core domain</text>
<text x="568.1" y="1062.9" font-size="13.2">RNase H</text>
<text x="568.1" y="1083" font-size="13.2">Endonuclease-reverse transcriptase</text>
<text x="127.31" y="1093.2" font-size="13.3" text-anchor="end" fill="#e8701a" font-style="italic" transform="rotate(-45 127.31 1093.2)">Homo sapiens</text>
<text x="148.75" y="1093.2" font-size="13.3" text-anchor="end" fill="#e8701a" font-style="italic" transform="rotate(-45 148.75 1093.2)">Mus musculus</text>
<text x="169.17" y="1093.2" font-size="13.3" text-anchor="end" fill="#b71c24" font-style="italic" transform="rotate(-45 169.17 1093.2)">Gallus gallus</text>
<text x="190.8" y="1093.2" font-size="13.3" text-anchor="end" fill="#b71c24" font-style="italic" transform="rotate(-45 190.8 1093.2)">Taeniopygia guttata</text>
<text x="213.83" y="1093.2" font-size="13.3" text-anchor="end" fill="#1f8a9e" font-style="italic" transform="rotate(-45 213.83 1093.2)">Alligator mississippiensis</text>
<text x="234.06" y="1093.2" font-size="13.3" text-anchor="end" fill="#1f8a9e" font-style="italic" transform="rotate(-45 234.06 1093.2)">Xenopus laevis</text>
<text x="253.4" y="1093.2" font-size="13.3" text-anchor="end" fill="#7e3f98" font-style="italic" transform="rotate(-45 253.4 1093.2)">A. ocellaris</text>
<text x="276.23" y="1093.2" font-size="13.3" text-anchor="end" fill="#7e3f98" font-style="italic" transform="rotate(-45 276.23 1093.2)">Lebistes reticulatus</text>
<text x="297.86" y="1093.2" font-size="13.3" text-anchor="end" fill="#55929a" font-style="italic" transform="rotate(-45 297.86 1093.2)">Mola mola</text>
<text x="321.79" y="1093.2" font-size="13.3" text-anchor="end" fill="#55929a" font-style="italic" transform="rotate(-45 321.79 1093.2)">T. septentrionalis</text>
<text x="342.92" y="1093.2" font-size="13.3" text-anchor="end" fill="#55929a" font-style="italic" transform="rotate(-45 342.92 1093.2)">Diodon holocanthus</text>
<text x="362.44" y="1093.2" font-size="13.3" text-anchor="end" fill="#55929a" font-style="italic" transform="rotate(-45 362.44 1093.2)">T. nigroviridis</text>
<text x="384.77" y="1093.2" font-size="13.3" text-anchor="end" fill="#ef6548" font-style="italic" transform="rotate(-45 384.77 1093.2)">T. reticularis</text>
<text x="408.31" y="1093.2" font-size="13.3" text-anchor="end" fill="#ef6548" font-style="italic" transform="rotate(-45 408.31 1093.2)">T. xanthopterus</text>
<text x="430.13" y="1093.2" font-size="13.3" text-anchor="end" fill="#ef6548" font-style="italic" transform="rotate(-45 430.13 1093.2)">T. ocellatus</text>
<text x="450.87" y="1093.2" font-size="13.3" text-anchor="end" fill="#ef6548" font-style="italic" transform="rotate(-45 450.87 1093.2)">T. obscurus</text>
<text x="470.59" y="1093.2" font-size="13.3" text-anchor="end" fill="#ef6548" font-style="italic" transform="rotate(-45 470.59 1093.2)">T. rubripes</text>
<text x="494.32" y="1093.2" font-size="13.3" text-anchor="end" fill="#ef6548" font-style="italic" transform="rotate(-45 494.32 1093.2)">T. bimaculatus</text>
<text x="515.25" y="1093.2" font-size="13.3" text-anchor="end" fill="#ef6548" font-style="italic" transform="rotate(-45 515.25 1093.2)">T. flavidus</text>
<text x="538.58" y="1093.2" font-size="13.3" text-anchor="end" fill="#ef6548" font-style="italic" transform="rotate(-45 538.58 1093.2)">T. niphobles</text>
<text x="562.12" y="1093.2" font-size="13.3" text-anchor="end" fill="#ef6548" font-style="italic" transform="rotate(-45 562.12 1093.2)">T. oblongus</text>
</g>
<g>
<text x="870.3" y="854.4" font-size="21.5" font-weight="bold">i</text>
<rect x="918.3" y="848" width="19.6" height="19.6" fill="#4cb2cd"/>
<text x="944" y="862.9" font-size="13.05">Transposable elements</text>
<rect x="1089.1" y="848" width="20.6" height="19.6" fill="#d94b35"/>
<text x="1115.1" y="863.9" font-size="13.05" style="white-space:pre">Conserved  elements</text>
<text x="935.5" y="883.5" font-size="13" text-anchor="middle">0</text>
<line x1="936.9" y1="886.2" x2="936.9" y2="889.2" stroke="#000" stroke-width="1" />
<text x="1037.5" y="883.5" font-size="13" text-anchor="middle">5</text>
<line x1="1038.5" y1="886.2" x2="1038.5" y2="889.2" stroke="#000" stroke-width="1" />
<text x="1138.4" y="883.5" font-size="13" text-anchor="middle">10</text>
<line x1="1140.4" y1="886.2" x2="1140.4" y2="889.2" stroke="#000" stroke-width="1" />
<text x="1233.4" y="883.5" font-size="13" text-anchor="middle">20</text>
<line x1="1236.6" y1="886.2" x2="1236.6" y2="889.2" stroke="#000" stroke-width="1" />
<line x1="936.9" y1="1155.5" x2="936.9" y2="1159.5" stroke="#000" stroke-width="1" />
<text x="936.9" y="1175.8" font-size="13" text-anchor="middle" letter-spacing="0.9">0.0</text>
<line x1="1023.3" y1="1155.5" x2="1023.3" y2="1159.5" stroke="#000" stroke-width="1" />
<text x="1023.3" y="1175.8" font-size="13" text-anchor="middle" letter-spacing="0.9">0.2</text>
<line x1="1110.4" y1="1155.5" x2="1110.4" y2="1159.5" stroke="#000" stroke-width="1" />
<text x="1110.4" y="1175.8" font-size="13" text-anchor="middle" letter-spacing="0.9">0.4</text>
<line x1="1197.1" y1="1155.5" x2="1197.1" y2="1159.5" stroke="#000" stroke-width="1" />
<text x="1197.1" y="1175.8" font-size="13" text-anchor="middle" letter-spacing="0.9">0.6</text>
<text x="1072.9" y="1198.3" font-size="13" text-anchor="middle" textLength="303.8" lengthAdjust="spacingAndGlyphs">Transposable elements(Fold against hg38-100 way)</text>
<rect x="936.9" y="895.9" width="7.7" height="14.3" fill="#4cb2cd"/>
<rect x="936.9" y="911.5" width="60.7" height="15.4" fill="#d94b35"/>
<line x1="918.3" y1="911.1" x2="922.7" y2="911.1" stroke="#000" stroke-width="1.1" />
<text x="913.4" y="914.5" font-size="13" text-anchor="end">Pufferfish</text>
<text x="947.8" y="908.8" font-size="13">0.42</text>
<text x="979.6" y="925.4" font-size="13" text-anchor="end" fill="#fff">0.1359</text>
<rect x="936.9" y="933.1" width="165.4" height="14.3" fill="#4cb2cd"/>
<rect x="936.9" y="948.7" width="62.8" height="15.4" fill="#d94b35"/>
<line x1="918.3" y1="948.3" x2="922.7" y2="948.3" stroke="#000" stroke-width="1.1" />
<text x="913.4" y="951.7" font-size="13" text-anchor="end">Zebrafish</text>
<text x="1105.5" y="946" font-size="13">8.17</text>
<text x="981.7" y="962.6" font-size="13" text-anchor="end" fill="#fff">0.1379</text>
<rect x="936.9" y="970.2" width="39.8" height="14.3" fill="#4cb2cd"/>
<rect x="936.9" y="985.8" width="143.8" height="15.4" fill="#d94b35"/>
<line x1="918.3" y1="985.4" x2="922.7" y2="985.4" stroke="#000" stroke-width="1.1" />
<text x="913.4" y="988.8" font-size="13" text-anchor="end">Chicken</text>
<text x="978.2" y="983.1" font-size="13">1.99</text>
<text x="1062.7" y="998.7" font-size="13" text-anchor="end" fill="#fff">0.3331</text>
<rect x="936.9" y="1007.3" width="22.3" height="14.3" fill="#4cb2cd"/>
<rect x="936.9" y="1022.9" width="142.8" height="15.4" fill="#d94b35"/>
<line x1="918.3" y1="1022.5" x2="922.7" y2="1022.5" stroke="#000" stroke-width="1.1" />
<text x="913.4" y="1025.9" font-size="13" text-anchor="end">Zebra finch</text>
<text x="960.7" y="1020.2" font-size="13">1.15</text>
<text x="1061.7" y="1037.1" font-size="13" text-anchor="end" fill="#fff">0.3285</text>
<rect x="936.9" y="1043.8" width="153.9" height="14.3" fill="#4cb2cd"/>
<rect x="936.9" y="1059.4" width="88.7" height="15.4" fill="#d94b35"/>
<line x1="918.3" y1="1059" x2="922.7" y2="1059" stroke="#000" stroke-width="1.1" />
<text x="913.4" y="1062.4" font-size="13" text-anchor="end">Frog</text>
<text x="1094" y="1056.7" font-size="13">7.59</text>
<text x="1007.6" y="1075.3" font-size="13" text-anchor="end" fill="#fff">0.2071</text>
<rect x="936.9" y="1080.6" width="175.8" height="14.3" fill="#4cb2cd"/>
<rect x="936.9" y="1096.2" width="143.8" height="15.4" fill="#d94b35"/>
<line x1="918.3" y1="1095.8" x2="922.7" y2="1095.8" stroke="#000" stroke-width="1.1" />
<text x="913.4" y="1099.2" font-size="13" text-anchor="end">Alligator</text>
<text x="1115.9" y="1093.5" font-size="13">8.70</text>
<text x="1062.7" y="1110.8" font-size="13" text-anchor="end" fill="#fff">0.3318</text>
<rect x="936.9" y="1118" width="284.9" height="14.3" fill="#4cb2cd"/>
<rect x="936.9" y="1133.6" width="285.9" height="15.4" fill="#d94b35"/>
<line x1="918.3" y1="1133.2" x2="922.7" y2="1133.2" stroke="#000" stroke-width="1.1" />
<text x="913.4" y="1136.6" font-size="13" text-anchor="end">Mouse</text>
<text x="1207.4" y="1130.4" font-size="13" text-anchor="end">14.04</text>
<text x="1207.3" y="1147.2" font-size="13" text-anchor="end" fill="#fff">0.6689</text>
<rect x="922.7" y="889.2" width="314.9" height="266.3" fill="none" stroke="#000" stroke-width="1.6"/>
</g>
</svg>
</body>
</html>
